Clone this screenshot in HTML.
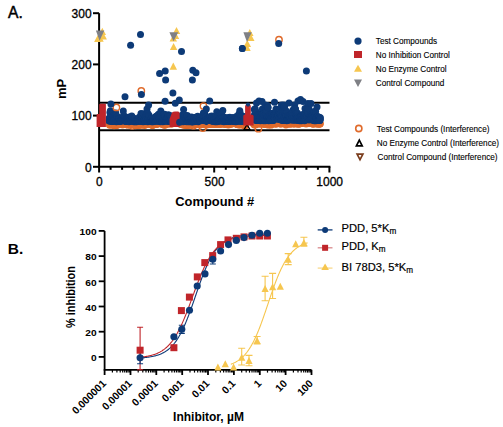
<!DOCTYPE html>
<html><head><meta charset="utf-8"><style>
html,body{margin:0;padding:0;background:#fff;width:503px;height:427px;overflow:hidden}
svg{display:block;font-family:"Liberation Sans", sans-serif}
</style></head><body><svg width="503" height="427" viewBox="0 0 503 427"><g stroke="#000" stroke-width="2" fill="none">
<path d="M99.1 13.2V166.8"/>
<path d="M93 166.8H99.1"/>
<path d="M93 115.6H99.1"/>
<path d="M93 64.4H99.1"/>
<path d="M93 13.2H99.1"/>
<path d="M98.1 166.8H330.4"/>
<path d="M99.1 166.8V172.5"/>
<path d="M110.6 166.8V169.8"/>
<path d="M122.1 166.8V169.8"/>
<path d="M133.6 166.8V169.8"/>
<path d="M145.2 166.8V169.8"/>
<path d="M156.7 166.8V169.8"/>
<path d="M168.2 166.8V169.8"/>
<path d="M179.7 166.8V169.8"/>
<path d="M191.2 166.8V169.8"/>
<path d="M202.7 166.8V169.8"/>
<path d="M214.2 166.8V172.5"/>
<path d="M225.8 166.8V169.8"/>
<path d="M237.3 166.8V169.8"/>
<path d="M248.8 166.8V169.8"/>
<path d="M260.3 166.8V169.8"/>
<path d="M271.8 166.8V169.8"/>
<path d="M283.3 166.8V169.8"/>
<path d="M294.9 166.8V169.8"/>
<path d="M306.4 166.8V169.8"/>
<path d="M317.9 166.8V169.8"/>
<path d="M329.4 166.8V172.5"/>
<path d="M99.1 102.7H329.5"/>
<path d="M99.1 130.3H329.5"/>
</g>
<g><circle cx="109.2" cy="123.9" r="3.0" fill="none" stroke="#e06b2c" stroke-width="1.2"/><circle cx="109.5" cy="124.1" r="3.0" fill="none" stroke="#e06b2c" stroke-width="1.2"/><circle cx="109.7" cy="125.1" r="3.0" fill="none" stroke="#e06b2c" stroke-width="1.2"/><circle cx="110.2" cy="124.6" r="3.0" fill="none" stroke="#e06b2c" stroke-width="1.2"/><circle cx="110.6" cy="123.6" r="3.0" fill="none" stroke="#e06b2c" stroke-width="1.2"/><circle cx="111.1" cy="123.6" r="3.0" fill="none" stroke="#e06b2c" stroke-width="1.2"/><circle cx="111.8" cy="125.0" r="3.0" fill="none" stroke="#e06b2c" stroke-width="1.2"/><circle cx="112.0" cy="124.4" r="3.0" fill="none" stroke="#e06b2c" stroke-width="1.2"/><circle cx="112.7" cy="124.4" r="3.0" fill="none" stroke="#e06b2c" stroke-width="1.2"/><circle cx="112.9" cy="125.0" r="3.0" fill="none" stroke="#e06b2c" stroke-width="1.2"/><circle cx="113.8" cy="123.7" r="3.0" fill="none" stroke="#e06b2c" stroke-width="1.2"/><circle cx="114.1" cy="125.6" r="3.0" fill="none" stroke="#e06b2c" stroke-width="1.2"/><circle cx="114.3" cy="123.2" r="3.0" fill="none" stroke="#e06b2c" stroke-width="1.2"/><circle cx="114.8" cy="125.0" r="3.0" fill="none" stroke="#e06b2c" stroke-width="1.2"/><circle cx="115.0" cy="124.1" r="3.0" fill="none" stroke="#e06b2c" stroke-width="1.2"/><circle cx="115.5" cy="125.4" r="3.0" fill="none" stroke="#e06b2c" stroke-width="1.2"/><circle cx="115.9" cy="124.6" r="3.0" fill="none" stroke="#e06b2c" stroke-width="1.2"/><circle cx="116.1" cy="124.0" r="3.0" fill="none" stroke="#e06b2c" stroke-width="1.2"/><circle cx="116.4" cy="125.2" r="3.0" fill="none" stroke="#e06b2c" stroke-width="1.2"/><circle cx="116.6" cy="124.4" r="3.0" fill="none" stroke="#e06b2c" stroke-width="1.2"/><circle cx="116.8" cy="125.5" r="3.0" fill="none" stroke="#e06b2c" stroke-width="1.2"/><circle cx="117.5" cy="124.2" r="3.0" fill="none" stroke="#e06b2c" stroke-width="1.2"/><circle cx="117.8" cy="124.4" r="3.0" fill="none" stroke="#e06b2c" stroke-width="1.2"/><circle cx="118.0" cy="123.9" r="3.0" fill="none" stroke="#e06b2c" stroke-width="1.2"/><circle cx="118.2" cy="123.4" r="3.0" fill="none" stroke="#e06b2c" stroke-width="1.2"/><circle cx="118.7" cy="124.5" r="3.0" fill="none" stroke="#e06b2c" stroke-width="1.2"/><circle cx="119.6" cy="124.0" r="3.0" fill="none" stroke="#e06b2c" stroke-width="1.2"/><circle cx="120.5" cy="123.9" r="3.0" fill="none" stroke="#e06b2c" stroke-width="1.2"/><circle cx="120.7" cy="124.2" r="3.0" fill="none" stroke="#e06b2c" stroke-width="1.2"/><circle cx="122.1" cy="123.9" r="3.0" fill="none" stroke="#e06b2c" stroke-width="1.2"/><circle cx="122.4" cy="124.1" r="3.0" fill="none" stroke="#e06b2c" stroke-width="1.2"/><circle cx="122.6" cy="125.0" r="3.0" fill="none" stroke="#e06b2c" stroke-width="1.2"/><circle cx="122.8" cy="123.8" r="3.0" fill="none" stroke="#e06b2c" stroke-width="1.2"/><circle cx="123.5" cy="123.7" r="3.0" fill="none" stroke="#e06b2c" stroke-width="1.2"/><circle cx="123.7" cy="123.9" r="3.0" fill="none" stroke="#e06b2c" stroke-width="1.2"/><circle cx="124.2" cy="123.1" r="3.0" fill="none" stroke="#e06b2c" stroke-width="1.2"/><circle cx="125.1" cy="122.4" r="3.0" fill="none" stroke="#e06b2c" stroke-width="1.2"/><circle cx="125.8" cy="123.3" r="3.0" fill="none" stroke="#e06b2c" stroke-width="1.2"/><circle cx="126.0" cy="123.5" r="3.0" fill="none" stroke="#e06b2c" stroke-width="1.2"/><circle cx="126.3" cy="123.9" r="3.0" fill="none" stroke="#e06b2c" stroke-width="1.2"/><circle cx="126.7" cy="124.6" r="3.0" fill="none" stroke="#e06b2c" stroke-width="1.2"/><circle cx="127.0" cy="124.1" r="3.0" fill="none" stroke="#e06b2c" stroke-width="1.2"/><circle cx="127.7" cy="124.9" r="3.0" fill="none" stroke="#e06b2c" stroke-width="1.2"/><circle cx="127.9" cy="124.4" r="3.0" fill="none" stroke="#e06b2c" stroke-width="1.2"/><circle cx="128.6" cy="123.9" r="3.0" fill="none" stroke="#e06b2c" stroke-width="1.2"/><circle cx="128.8" cy="124.4" r="3.0" fill="none" stroke="#e06b2c" stroke-width="1.2"/><circle cx="129.0" cy="123.9" r="3.0" fill="none" stroke="#e06b2c" stroke-width="1.2"/><circle cx="129.5" cy="123.9" r="3.0" fill="none" stroke="#e06b2c" stroke-width="1.2"/><circle cx="129.7" cy="124.9" r="3.0" fill="none" stroke="#e06b2c" stroke-width="1.2"/><circle cx="130.2" cy="124.2" r="3.0" fill="none" stroke="#e06b2c" stroke-width="1.2"/><circle cx="130.4" cy="124.2" r="3.0" fill="none" stroke="#e06b2c" stroke-width="1.2"/><circle cx="130.7" cy="124.3" r="3.0" fill="none" stroke="#e06b2c" stroke-width="1.2"/><circle cx="131.1" cy="124.3" r="3.0" fill="none" stroke="#e06b2c" stroke-width="1.2"/><circle cx="131.3" cy="124.4" r="3.0" fill="none" stroke="#e06b2c" stroke-width="1.2"/><circle cx="132.0" cy="123.3" r="3.0" fill="none" stroke="#e06b2c" stroke-width="1.2"/><circle cx="132.3" cy="126.1" r="3.0" fill="none" stroke="#e06b2c" stroke-width="1.2"/><circle cx="132.5" cy="123.7" r="3.0" fill="none" stroke="#e06b2c" stroke-width="1.2"/><circle cx="133.0" cy="123.6" r="3.0" fill="none" stroke="#e06b2c" stroke-width="1.2"/><circle cx="133.9" cy="125.0" r="3.0" fill="none" stroke="#e06b2c" stroke-width="1.2"/><circle cx="134.6" cy="124.2" r="3.0" fill="none" stroke="#e06b2c" stroke-width="1.2"/><circle cx="135.0" cy="124.6" r="3.0" fill="none" stroke="#e06b2c" stroke-width="1.2"/><circle cx="135.3" cy="124.3" r="3.0" fill="none" stroke="#e06b2c" stroke-width="1.2"/><circle cx="135.5" cy="125.7" r="3.0" fill="none" stroke="#e06b2c" stroke-width="1.2"/><circle cx="135.7" cy="123.1" r="3.0" fill="none" stroke="#e06b2c" stroke-width="1.2"/><circle cx="136.4" cy="124.8" r="3.0" fill="none" stroke="#e06b2c" stroke-width="1.2"/><circle cx="136.9" cy="124.6" r="3.0" fill="none" stroke="#e06b2c" stroke-width="1.2"/><circle cx="137.3" cy="125.2" r="3.0" fill="none" stroke="#e06b2c" stroke-width="1.2"/><circle cx="138.3" cy="124.0" r="3.0" fill="none" stroke="#e06b2c" stroke-width="1.2"/><circle cx="138.5" cy="125.5" r="3.0" fill="none" stroke="#e06b2c" stroke-width="1.2"/><circle cx="139.4" cy="125.1" r="3.0" fill="none" stroke="#e06b2c" stroke-width="1.2"/><circle cx="139.6" cy="123.7" r="3.0" fill="none" stroke="#e06b2c" stroke-width="1.2"/><circle cx="139.9" cy="123.8" r="3.0" fill="none" stroke="#e06b2c" stroke-width="1.2"/><circle cx="140.8" cy="123.4" r="3.0" fill="none" stroke="#e06b2c" stroke-width="1.2"/><circle cx="141.2" cy="124.2" r="3.0" fill="none" stroke="#e06b2c" stroke-width="1.2"/><circle cx="141.7" cy="125.1" r="3.0" fill="none" stroke="#e06b2c" stroke-width="1.2"/><circle cx="141.9" cy="124.4" r="3.0" fill="none" stroke="#e06b2c" stroke-width="1.2"/><circle cx="142.9" cy="124.1" r="3.0" fill="none" stroke="#e06b2c" stroke-width="1.2"/><circle cx="143.1" cy="122.9" r="3.0" fill="none" stroke="#e06b2c" stroke-width="1.2"/><circle cx="143.3" cy="124.3" r="3.0" fill="none" stroke="#e06b2c" stroke-width="1.2"/><circle cx="143.5" cy="124.0" r="3.0" fill="none" stroke="#e06b2c" stroke-width="1.2"/><circle cx="143.8" cy="122.3" r="3.0" fill="none" stroke="#e06b2c" stroke-width="1.2"/><circle cx="144.2" cy="124.2" r="3.0" fill="none" stroke="#e06b2c" stroke-width="1.2"/><circle cx="144.5" cy="125.3" r="3.0" fill="none" stroke="#e06b2c" stroke-width="1.2"/><circle cx="144.9" cy="124.2" r="3.0" fill="none" stroke="#e06b2c" stroke-width="1.2"/><circle cx="145.2" cy="124.5" r="3.0" fill="none" stroke="#e06b2c" stroke-width="1.2"/><circle cx="145.6" cy="123.6" r="3.0" fill="none" stroke="#e06b2c" stroke-width="1.2"/><circle cx="145.9" cy="124.7" r="3.0" fill="none" stroke="#e06b2c" stroke-width="1.2"/><circle cx="146.1" cy="124.5" r="3.0" fill="none" stroke="#e06b2c" stroke-width="1.2"/><circle cx="146.5" cy="123.2" r="3.0" fill="none" stroke="#e06b2c" stroke-width="1.2"/><circle cx="146.8" cy="124.5" r="3.0" fill="none" stroke="#e06b2c" stroke-width="1.2"/><circle cx="147.2" cy="123.7" r="3.0" fill="none" stroke="#e06b2c" stroke-width="1.2"/><circle cx="147.5" cy="122.5" r="3.0" fill="none" stroke="#e06b2c" stroke-width="1.2"/><circle cx="147.7" cy="123.6" r="3.0" fill="none" stroke="#e06b2c" stroke-width="1.2"/><circle cx="148.2" cy="123.4" r="3.0" fill="none" stroke="#e06b2c" stroke-width="1.2"/><circle cx="149.1" cy="123.4" r="3.0" fill="none" stroke="#e06b2c" stroke-width="1.2"/><circle cx="149.3" cy="122.8" r="3.0" fill="none" stroke="#e06b2c" stroke-width="1.2"/><circle cx="149.8" cy="123.1" r="3.0" fill="none" stroke="#e06b2c" stroke-width="1.2"/><circle cx="150.0" cy="123.3" r="3.0" fill="none" stroke="#e06b2c" stroke-width="1.2"/><circle cx="150.2" cy="124.3" r="3.0" fill="none" stroke="#e06b2c" stroke-width="1.2"/><circle cx="150.7" cy="122.6" r="3.0" fill="none" stroke="#e06b2c" stroke-width="1.2"/><circle cx="151.1" cy="123.2" r="3.0" fill="none" stroke="#e06b2c" stroke-width="1.2"/><circle cx="151.4" cy="123.8" r="3.0" fill="none" stroke="#e06b2c" stroke-width="1.2"/><circle cx="151.8" cy="124.0" r="3.0" fill="none" stroke="#e06b2c" stroke-width="1.2"/><circle cx="152.1" cy="124.4" r="3.0" fill="none" stroke="#e06b2c" stroke-width="1.2"/><circle cx="152.5" cy="125.4" r="3.0" fill="none" stroke="#e06b2c" stroke-width="1.2"/><circle cx="152.8" cy="123.4" r="3.0" fill="none" stroke="#e06b2c" stroke-width="1.2"/><circle cx="153.2" cy="123.7" r="3.0" fill="none" stroke="#e06b2c" stroke-width="1.2"/><circle cx="153.7" cy="124.1" r="3.0" fill="none" stroke="#e06b2c" stroke-width="1.2"/><circle cx="153.9" cy="123.5" r="3.0" fill="none" stroke="#e06b2c" stroke-width="1.2"/><circle cx="154.6" cy="123.2" r="3.0" fill="none" stroke="#e06b2c" stroke-width="1.2"/><circle cx="154.8" cy="123.0" r="3.0" fill="none" stroke="#e06b2c" stroke-width="1.2"/><circle cx="155.1" cy="122.9" r="3.0" fill="none" stroke="#e06b2c" stroke-width="1.2"/><circle cx="155.3" cy="123.7" r="3.0" fill="none" stroke="#e06b2c" stroke-width="1.2"/><circle cx="155.8" cy="124.5" r="3.0" fill="none" stroke="#e06b2c" stroke-width="1.2"/><circle cx="156.2" cy="123.4" r="3.0" fill="none" stroke="#e06b2c" stroke-width="1.2"/><circle cx="156.4" cy="124.3" r="3.0" fill="none" stroke="#e06b2c" stroke-width="1.2"/><circle cx="156.7" cy="124.3" r="3.0" fill="none" stroke="#e06b2c" stroke-width="1.2"/><circle cx="157.1" cy="123.4" r="3.0" fill="none" stroke="#e06b2c" stroke-width="1.2"/><circle cx="157.6" cy="123.0" r="3.0" fill="none" stroke="#e06b2c" stroke-width="1.2"/><circle cx="157.8" cy="123.1" r="3.0" fill="none" stroke="#e06b2c" stroke-width="1.2"/><circle cx="158.1" cy="122.8" r="3.0" fill="none" stroke="#e06b2c" stroke-width="1.2"/><circle cx="158.5" cy="122.2" r="3.0" fill="none" stroke="#e06b2c" stroke-width="1.2"/><circle cx="159.0" cy="123.1" r="3.0" fill="none" stroke="#e06b2c" stroke-width="1.2"/><circle cx="159.9" cy="123.7" r="3.0" fill="none" stroke="#e06b2c" stroke-width="1.2"/><circle cx="160.1" cy="123.0" r="3.0" fill="none" stroke="#e06b2c" stroke-width="1.2"/><circle cx="160.4" cy="122.8" r="3.0" fill="none" stroke="#e06b2c" stroke-width="1.2"/><circle cx="160.6" cy="123.4" r="3.0" fill="none" stroke="#e06b2c" stroke-width="1.2"/><circle cx="161.1" cy="123.5" r="3.0" fill="none" stroke="#e06b2c" stroke-width="1.2"/><circle cx="161.3" cy="123.3" r="3.0" fill="none" stroke="#e06b2c" stroke-width="1.2"/><circle cx="162.2" cy="124.5" r="3.0" fill="none" stroke="#e06b2c" stroke-width="1.2"/><circle cx="162.4" cy="123.4" r="3.0" fill="none" stroke="#e06b2c" stroke-width="1.2"/><circle cx="162.9" cy="123.8" r="3.0" fill="none" stroke="#e06b2c" stroke-width="1.2"/><circle cx="163.1" cy="124.1" r="3.0" fill="none" stroke="#e06b2c" stroke-width="1.2"/><circle cx="163.8" cy="123.3" r="3.0" fill="none" stroke="#e06b2c" stroke-width="1.2"/><circle cx="164.0" cy="124.8" r="3.0" fill="none" stroke="#e06b2c" stroke-width="1.2"/><circle cx="164.5" cy="125.2" r="3.0" fill="none" stroke="#e06b2c" stroke-width="1.2"/><circle cx="165.2" cy="124.6" r="3.0" fill="none" stroke="#e06b2c" stroke-width="1.2"/><circle cx="165.7" cy="123.5" r="3.0" fill="none" stroke="#e06b2c" stroke-width="1.2"/><circle cx="165.9" cy="124.6" r="3.0" fill="none" stroke="#e06b2c" stroke-width="1.2"/><circle cx="166.3" cy="123.5" r="3.0" fill="none" stroke="#e06b2c" stroke-width="1.2"/><circle cx="167.0" cy="123.6" r="3.0" fill="none" stroke="#e06b2c" stroke-width="1.2"/><circle cx="167.7" cy="123.4" r="3.0" fill="none" stroke="#e06b2c" stroke-width="1.2"/><circle cx="168.0" cy="123.0" r="3.0" fill="none" stroke="#e06b2c" stroke-width="1.2"/><circle cx="168.4" cy="124.1" r="3.0" fill="none" stroke="#e06b2c" stroke-width="1.2"/><circle cx="168.9" cy="122.4" r="3.0" fill="none" stroke="#e06b2c" stroke-width="1.2"/><circle cx="169.6" cy="123.4" r="3.0" fill="none" stroke="#e06b2c" stroke-width="1.2"/><circle cx="169.8" cy="122.1" r="3.0" fill="none" stroke="#e06b2c" stroke-width="1.2"/><circle cx="171.2" cy="123.3" r="3.0" fill="none" stroke="#e06b2c" stroke-width="1.2"/><circle cx="171.4" cy="124.1" r="3.0" fill="none" stroke="#e06b2c" stroke-width="1.2"/><circle cx="179.5" cy="123.0" r="3.0" fill="none" stroke="#e06b2c" stroke-width="1.2"/><circle cx="179.9" cy="123.7" r="3.0" fill="none" stroke="#e06b2c" stroke-width="1.2"/><circle cx="180.2" cy="123.0" r="3.0" fill="none" stroke="#e06b2c" stroke-width="1.2"/><circle cx="180.4" cy="122.5" r="3.0" fill="none" stroke="#e06b2c" stroke-width="1.2"/><circle cx="180.6" cy="124.2" r="3.0" fill="none" stroke="#e06b2c" stroke-width="1.2"/><circle cx="180.9" cy="124.1" r="3.0" fill="none" stroke="#e06b2c" stroke-width="1.2"/><circle cx="181.1" cy="124.0" r="3.0" fill="none" stroke="#e06b2c" stroke-width="1.2"/><circle cx="181.5" cy="123.1" r="3.0" fill="none" stroke="#e06b2c" stroke-width="1.2"/><circle cx="182.2" cy="122.8" r="3.0" fill="none" stroke="#e06b2c" stroke-width="1.2"/><circle cx="182.9" cy="123.9" r="3.0" fill="none" stroke="#e06b2c" stroke-width="1.2"/><circle cx="183.4" cy="125.1" r="3.0" fill="none" stroke="#e06b2c" stroke-width="1.2"/><circle cx="183.6" cy="124.0" r="3.0" fill="none" stroke="#e06b2c" stroke-width="1.2"/><circle cx="183.9" cy="124.7" r="3.0" fill="none" stroke="#e06b2c" stroke-width="1.2"/><circle cx="184.1" cy="124.1" r="3.0" fill="none" stroke="#e06b2c" stroke-width="1.2"/><circle cx="184.5" cy="125.0" r="3.0" fill="none" stroke="#e06b2c" stroke-width="1.2"/><circle cx="184.8" cy="123.9" r="3.0" fill="none" stroke="#e06b2c" stroke-width="1.2"/><circle cx="185.9" cy="125.1" r="3.0" fill="none" stroke="#e06b2c" stroke-width="1.2"/><circle cx="186.2" cy="125.2" r="3.0" fill="none" stroke="#e06b2c" stroke-width="1.2"/><circle cx="186.8" cy="124.5" r="3.0" fill="none" stroke="#e06b2c" stroke-width="1.2"/><circle cx="187.1" cy="125.2" r="3.0" fill="none" stroke="#e06b2c" stroke-width="1.2"/><circle cx="187.3" cy="124.4" r="3.0" fill="none" stroke="#e06b2c" stroke-width="1.2"/><circle cx="187.5" cy="125.5" r="3.0" fill="none" stroke="#e06b2c" stroke-width="1.2"/><circle cx="187.8" cy="124.7" r="3.0" fill="none" stroke="#e06b2c" stroke-width="1.2"/><circle cx="188.7" cy="125.0" r="3.0" fill="none" stroke="#e06b2c" stroke-width="1.2"/><circle cx="189.1" cy="124.9" r="3.0" fill="none" stroke="#e06b2c" stroke-width="1.2"/><circle cx="189.4" cy="124.0" r="3.0" fill="none" stroke="#e06b2c" stroke-width="1.2"/><circle cx="190.1" cy="124.8" r="3.0" fill="none" stroke="#e06b2c" stroke-width="1.2"/><circle cx="191.2" cy="125.0" r="3.0" fill="none" stroke="#e06b2c" stroke-width="1.2"/><circle cx="192.1" cy="124.7" r="3.0" fill="none" stroke="#e06b2c" stroke-width="1.2"/><circle cx="192.4" cy="124.8" r="3.0" fill="none" stroke="#e06b2c" stroke-width="1.2"/><circle cx="193.5" cy="125.9" r="3.0" fill="none" stroke="#e06b2c" stroke-width="1.2"/><circle cx="194.0" cy="124.3" r="3.0" fill="none" stroke="#e06b2c" stroke-width="1.2"/><circle cx="194.2" cy="124.2" r="3.0" fill="none" stroke="#e06b2c" stroke-width="1.2"/><circle cx="194.7" cy="123.0" r="3.0" fill="none" stroke="#e06b2c" stroke-width="1.2"/><circle cx="195.6" cy="124.7" r="3.0" fill="none" stroke="#e06b2c" stroke-width="1.2"/><circle cx="196.1" cy="124.2" r="3.0" fill="none" stroke="#e06b2c" stroke-width="1.2"/><circle cx="196.5" cy="122.8" r="3.0" fill="none" stroke="#e06b2c" stroke-width="1.2"/><circle cx="197.0" cy="122.5" r="3.0" fill="none" stroke="#e06b2c" stroke-width="1.2"/><circle cx="197.4" cy="123.9" r="3.0" fill="none" stroke="#e06b2c" stroke-width="1.2"/><circle cx="198.1" cy="124.0" r="3.0" fill="none" stroke="#e06b2c" stroke-width="1.2"/><circle cx="198.4" cy="123.3" r="3.0" fill="none" stroke="#e06b2c" stroke-width="1.2"/><circle cx="198.6" cy="123.8" r="3.0" fill="none" stroke="#e06b2c" stroke-width="1.2"/><circle cx="198.8" cy="124.7" r="3.0" fill="none" stroke="#e06b2c" stroke-width="1.2"/><circle cx="199.3" cy="123.1" r="3.0" fill="none" stroke="#e06b2c" stroke-width="1.2"/><circle cx="200.0" cy="125.0" r="3.0" fill="none" stroke="#e06b2c" stroke-width="1.2"/><circle cx="200.2" cy="123.5" r="3.0" fill="none" stroke="#e06b2c" stroke-width="1.2"/><circle cx="200.7" cy="123.8" r="3.0" fill="none" stroke="#e06b2c" stroke-width="1.2"/><circle cx="200.9" cy="123.5" r="3.0" fill="none" stroke="#e06b2c" stroke-width="1.2"/><circle cx="201.1" cy="124.7" r="3.0" fill="none" stroke="#e06b2c" stroke-width="1.2"/><circle cx="201.4" cy="123.6" r="3.0" fill="none" stroke="#e06b2c" stroke-width="1.2"/><circle cx="201.6" cy="123.1" r="3.0" fill="none" stroke="#e06b2c" stroke-width="1.2"/><circle cx="202.3" cy="124.2" r="3.0" fill="none" stroke="#e06b2c" stroke-width="1.2"/><circle cx="202.7" cy="123.8" r="3.0" fill="none" stroke="#e06b2c" stroke-width="1.2"/><circle cx="203.0" cy="123.3" r="3.0" fill="none" stroke="#e06b2c" stroke-width="1.2"/><circle cx="203.2" cy="123.5" r="3.0" fill="none" stroke="#e06b2c" stroke-width="1.2"/><circle cx="203.7" cy="123.5" r="3.0" fill="none" stroke="#e06b2c" stroke-width="1.2"/><circle cx="204.1" cy="123.7" r="3.0" fill="none" stroke="#e06b2c" stroke-width="1.2"/><circle cx="204.3" cy="123.4" r="3.0" fill="none" stroke="#e06b2c" stroke-width="1.2"/><circle cx="204.6" cy="124.5" r="3.0" fill="none" stroke="#e06b2c" stroke-width="1.2"/><circle cx="205.0" cy="124.1" r="3.0" fill="none" stroke="#e06b2c" stroke-width="1.2"/><circle cx="205.5" cy="125.0" r="3.0" fill="none" stroke="#e06b2c" stroke-width="1.2"/><circle cx="205.7" cy="124.5" r="3.0" fill="none" stroke="#e06b2c" stroke-width="1.2"/><circle cx="206.0" cy="124.6" r="3.0" fill="none" stroke="#e06b2c" stroke-width="1.2"/><circle cx="206.7" cy="125.0" r="3.0" fill="none" stroke="#e06b2c" stroke-width="1.2"/><circle cx="209.2" cy="123.9" r="3.0" fill="none" stroke="#e06b2c" stroke-width="1.2"/><circle cx="210.3" cy="124.4" r="3.0" fill="none" stroke="#e06b2c" stroke-width="1.2"/><circle cx="211.3" cy="123.1" r="3.0" fill="none" stroke="#e06b2c" stroke-width="1.2"/><circle cx="211.7" cy="124.1" r="3.0" fill="none" stroke="#e06b2c" stroke-width="1.2"/><circle cx="211.9" cy="123.3" r="3.0" fill="none" stroke="#e06b2c" stroke-width="1.2"/><circle cx="212.2" cy="124.0" r="3.0" fill="none" stroke="#e06b2c" stroke-width="1.2"/><circle cx="212.6" cy="123.8" r="3.0" fill="none" stroke="#e06b2c" stroke-width="1.2"/><circle cx="213.1" cy="124.4" r="3.0" fill="none" stroke="#e06b2c" stroke-width="1.2"/><circle cx="213.6" cy="122.6" r="3.0" fill="none" stroke="#e06b2c" stroke-width="1.2"/><circle cx="214.2" cy="122.8" r="3.0" fill="none" stroke="#e06b2c" stroke-width="1.2"/><circle cx="214.7" cy="124.3" r="3.0" fill="none" stroke="#e06b2c" stroke-width="1.2"/><circle cx="214.9" cy="123.7" r="3.0" fill="none" stroke="#e06b2c" stroke-width="1.2"/><circle cx="215.4" cy="123.9" r="3.0" fill="none" stroke="#e06b2c" stroke-width="1.2"/><circle cx="216.3" cy="122.9" r="3.0" fill="none" stroke="#e06b2c" stroke-width="1.2"/><circle cx="216.6" cy="122.7" r="3.0" fill="none" stroke="#e06b2c" stroke-width="1.2"/><circle cx="217.0" cy="123.8" r="3.0" fill="none" stroke="#e06b2c" stroke-width="1.2"/><circle cx="217.2" cy="124.5" r="3.0" fill="none" stroke="#e06b2c" stroke-width="1.2"/><circle cx="218.2" cy="122.4" r="3.0" fill="none" stroke="#e06b2c" stroke-width="1.2"/><circle cx="218.9" cy="124.0" r="3.0" fill="none" stroke="#e06b2c" stroke-width="1.2"/><circle cx="219.1" cy="123.5" r="3.0" fill="none" stroke="#e06b2c" stroke-width="1.2"/><circle cx="219.3" cy="124.1" r="3.0" fill="none" stroke="#e06b2c" stroke-width="1.2"/><circle cx="219.5" cy="123.2" r="3.0" fill="none" stroke="#e06b2c" stroke-width="1.2"/><circle cx="220.0" cy="122.5" r="3.0" fill="none" stroke="#e06b2c" stroke-width="1.2"/><circle cx="220.2" cy="124.3" r="3.0" fill="none" stroke="#e06b2c" stroke-width="1.2"/><circle cx="220.5" cy="122.9" r="3.0" fill="none" stroke="#e06b2c" stroke-width="1.2"/><circle cx="221.2" cy="123.7" r="3.0" fill="none" stroke="#e06b2c" stroke-width="1.2"/><circle cx="221.4" cy="122.8" r="3.0" fill="none" stroke="#e06b2c" stroke-width="1.2"/><circle cx="221.6" cy="123.2" r="3.0" fill="none" stroke="#e06b2c" stroke-width="1.2"/><circle cx="221.8" cy="123.5" r="3.0" fill="none" stroke="#e06b2c" stroke-width="1.2"/><circle cx="222.5" cy="124.2" r="3.0" fill="none" stroke="#e06b2c" stroke-width="1.2"/><circle cx="223.0" cy="123.3" r="3.0" fill="none" stroke="#e06b2c" stroke-width="1.2"/><circle cx="223.7" cy="123.4" r="3.0" fill="none" stroke="#e06b2c" stroke-width="1.2"/><circle cx="223.9" cy="124.0" r="3.0" fill="none" stroke="#e06b2c" stroke-width="1.2"/><circle cx="224.8" cy="123.5" r="3.0" fill="none" stroke="#e06b2c" stroke-width="1.2"/><circle cx="225.3" cy="124.3" r="3.0" fill="none" stroke="#e06b2c" stroke-width="1.2"/><circle cx="226.0" cy="123.9" r="3.0" fill="none" stroke="#e06b2c" stroke-width="1.2"/><circle cx="226.2" cy="124.4" r="3.0" fill="none" stroke="#e06b2c" stroke-width="1.2"/><circle cx="226.5" cy="123.0" r="3.0" fill="none" stroke="#e06b2c" stroke-width="1.2"/><circle cx="226.7" cy="124.1" r="3.0" fill="none" stroke="#e06b2c" stroke-width="1.2"/><circle cx="227.1" cy="124.2" r="3.0" fill="none" stroke="#e06b2c" stroke-width="1.2"/><circle cx="227.6" cy="124.1" r="3.0" fill="none" stroke="#e06b2c" stroke-width="1.2"/><circle cx="227.8" cy="123.7" r="3.0" fill="none" stroke="#e06b2c" stroke-width="1.2"/><circle cx="228.3" cy="125.0" r="3.0" fill="none" stroke="#e06b2c" stroke-width="1.2"/><circle cx="228.5" cy="123.6" r="3.0" fill="none" stroke="#e06b2c" stroke-width="1.2"/><circle cx="229.7" cy="124.0" r="3.0" fill="none" stroke="#e06b2c" stroke-width="1.2"/><circle cx="229.9" cy="123.4" r="3.0" fill="none" stroke="#e06b2c" stroke-width="1.2"/><circle cx="230.6" cy="124.5" r="3.0" fill="none" stroke="#e06b2c" stroke-width="1.2"/><circle cx="231.1" cy="123.7" r="3.0" fill="none" stroke="#e06b2c" stroke-width="1.2"/><circle cx="231.5" cy="122.9" r="3.0" fill="none" stroke="#e06b2c" stroke-width="1.2"/><circle cx="232.0" cy="123.1" r="3.0" fill="none" stroke="#e06b2c" stroke-width="1.2"/><circle cx="232.7" cy="122.4" r="3.0" fill="none" stroke="#e06b2c" stroke-width="1.2"/><circle cx="232.9" cy="123.7" r="3.0" fill="none" stroke="#e06b2c" stroke-width="1.2"/><circle cx="233.4" cy="122.7" r="3.0" fill="none" stroke="#e06b2c" stroke-width="1.2"/><circle cx="233.8" cy="122.2" r="3.0" fill="none" stroke="#e06b2c" stroke-width="1.2"/><circle cx="235.4" cy="123.1" r="3.0" fill="none" stroke="#e06b2c" stroke-width="1.2"/><circle cx="236.6" cy="124.0" r="3.0" fill="none" stroke="#e06b2c" stroke-width="1.2"/><circle cx="237.0" cy="124.4" r="3.0" fill="none" stroke="#e06b2c" stroke-width="1.2"/><circle cx="237.3" cy="123.8" r="3.0" fill="none" stroke="#e06b2c" stroke-width="1.2"/><circle cx="237.5" cy="123.8" r="3.0" fill="none" stroke="#e06b2c" stroke-width="1.2"/><circle cx="237.7" cy="123.0" r="3.0" fill="none" stroke="#e06b2c" stroke-width="1.2"/><circle cx="238.7" cy="124.8" r="3.0" fill="none" stroke="#e06b2c" stroke-width="1.2"/><circle cx="239.1" cy="123.7" r="3.0" fill="none" stroke="#e06b2c" stroke-width="1.2"/><circle cx="239.4" cy="124.2" r="3.0" fill="none" stroke="#e06b2c" stroke-width="1.2"/><circle cx="240.0" cy="124.2" r="3.0" fill="none" stroke="#e06b2c" stroke-width="1.2"/><circle cx="240.3" cy="125.0" r="3.0" fill="none" stroke="#e06b2c" stroke-width="1.2"/><circle cx="240.7" cy="123.4" r="3.0" fill="none" stroke="#e06b2c" stroke-width="1.2"/><circle cx="241.2" cy="124.2" r="3.0" fill="none" stroke="#e06b2c" stroke-width="1.2"/><circle cx="242.3" cy="123.9" r="3.0" fill="none" stroke="#e06b2c" stroke-width="1.2"/><circle cx="242.6" cy="123.7" r="3.0" fill="none" stroke="#e06b2c" stroke-width="1.2"/><circle cx="242.8" cy="124.7" r="3.0" fill="none" stroke="#e06b2c" stroke-width="1.2"/><circle cx="243.0" cy="124.4" r="3.0" fill="none" stroke="#e06b2c" stroke-width="1.2"/><circle cx="243.3" cy="125.1" r="3.0" fill="none" stroke="#e06b2c" stroke-width="1.2"/><circle cx="243.5" cy="124.1" r="3.0" fill="none" stroke="#e06b2c" stroke-width="1.2"/><circle cx="244.0" cy="123.6" r="3.0" fill="none" stroke="#e06b2c" stroke-width="1.2"/><circle cx="244.4" cy="124.0" r="3.0" fill="none" stroke="#e06b2c" stroke-width="1.2"/><circle cx="244.6" cy="125.7" r="3.0" fill="none" stroke="#e06b2c" stroke-width="1.2"/><circle cx="244.9" cy="124.5" r="3.0" fill="none" stroke="#e06b2c" stroke-width="1.2"/><circle cx="245.3" cy="125.7" r="3.0" fill="none" stroke="#e06b2c" stroke-width="1.2"/><circle cx="253.6" cy="123.9" r="3.0" fill="none" stroke="#e06b2c" stroke-width="1.2"/><circle cx="253.9" cy="123.3" r="3.0" fill="none" stroke="#e06b2c" stroke-width="1.2"/><circle cx="254.3" cy="124.8" r="3.0" fill="none" stroke="#e06b2c" stroke-width="1.2"/><circle cx="254.6" cy="123.2" r="3.0" fill="none" stroke="#e06b2c" stroke-width="1.2"/><circle cx="254.8" cy="123.8" r="3.0" fill="none" stroke="#e06b2c" stroke-width="1.2"/><circle cx="255.2" cy="123.7" r="3.0" fill="none" stroke="#e06b2c" stroke-width="1.2"/><circle cx="255.5" cy="125.0" r="3.0" fill="none" stroke="#e06b2c" stroke-width="1.2"/><circle cx="255.9" cy="123.9" r="3.0" fill="none" stroke="#e06b2c" stroke-width="1.2"/><circle cx="256.4" cy="123.7" r="3.0" fill="none" stroke="#e06b2c" stroke-width="1.2"/><circle cx="257.1" cy="123.4" r="3.0" fill="none" stroke="#e06b2c" stroke-width="1.2"/><circle cx="258.2" cy="124.0" r="3.0" fill="none" stroke="#e06b2c" stroke-width="1.2"/><circle cx="258.7" cy="122.9" r="3.0" fill="none" stroke="#e06b2c" stroke-width="1.2"/><circle cx="259.4" cy="123.5" r="3.0" fill="none" stroke="#e06b2c" stroke-width="1.2"/><circle cx="259.8" cy="123.4" r="3.0" fill="none" stroke="#e06b2c" stroke-width="1.2"/><circle cx="260.3" cy="124.1" r="3.0" fill="none" stroke="#e06b2c" stroke-width="1.2"/><circle cx="261.0" cy="123.3" r="3.0" fill="none" stroke="#e06b2c" stroke-width="1.2"/><circle cx="261.2" cy="123.4" r="3.0" fill="none" stroke="#e06b2c" stroke-width="1.2"/><circle cx="262.8" cy="124.0" r="3.0" fill="none" stroke="#e06b2c" stroke-width="1.2"/><circle cx="263.8" cy="123.8" r="3.0" fill="none" stroke="#e06b2c" stroke-width="1.2"/><circle cx="264.0" cy="123.4" r="3.0" fill="none" stroke="#e06b2c" stroke-width="1.2"/><circle cx="264.2" cy="123.6" r="3.0" fill="none" stroke="#e06b2c" stroke-width="1.2"/><circle cx="264.5" cy="124.5" r="3.0" fill="none" stroke="#e06b2c" stroke-width="1.2"/><circle cx="264.9" cy="122.9" r="3.0" fill="none" stroke="#e06b2c" stroke-width="1.2"/><circle cx="265.6" cy="124.5" r="3.0" fill="none" stroke="#e06b2c" stroke-width="1.2"/><circle cx="265.8" cy="124.2" r="3.0" fill="none" stroke="#e06b2c" stroke-width="1.2"/><circle cx="266.5" cy="123.1" r="3.0" fill="none" stroke="#e06b2c" stroke-width="1.2"/><circle cx="267.4" cy="124.5" r="3.0" fill="none" stroke="#e06b2c" stroke-width="1.2"/><circle cx="267.7" cy="124.8" r="3.0" fill="none" stroke="#e06b2c" stroke-width="1.2"/><circle cx="268.4" cy="124.2" r="3.0" fill="none" stroke="#e06b2c" stroke-width="1.2"/><circle cx="268.6" cy="124.6" r="3.0" fill="none" stroke="#e06b2c" stroke-width="1.2"/><circle cx="269.8" cy="124.1" r="3.0" fill="none" stroke="#e06b2c" stroke-width="1.2"/><circle cx="270.0" cy="124.7" r="3.0" fill="none" stroke="#e06b2c" stroke-width="1.2"/><circle cx="270.2" cy="123.9" r="3.0" fill="none" stroke="#e06b2c" stroke-width="1.2"/><circle cx="270.9" cy="124.9" r="3.0" fill="none" stroke="#e06b2c" stroke-width="1.2"/><circle cx="271.1" cy="124.4" r="3.0" fill="none" stroke="#e06b2c" stroke-width="1.2"/><circle cx="271.4" cy="124.2" r="3.0" fill="none" stroke="#e06b2c" stroke-width="1.2"/><circle cx="271.6" cy="123.6" r="3.0" fill="none" stroke="#e06b2c" stroke-width="1.2"/><circle cx="271.8" cy="123.7" r="3.0" fill="none" stroke="#e06b2c" stroke-width="1.2"/><circle cx="273.0" cy="122.5" r="3.0" fill="none" stroke="#e06b2c" stroke-width="1.2"/><circle cx="273.9" cy="123.1" r="3.0" fill="none" stroke="#e06b2c" stroke-width="1.2"/><circle cx="274.8" cy="122.9" r="3.0" fill="none" stroke="#e06b2c" stroke-width="1.2"/><circle cx="275.0" cy="124.0" r="3.0" fill="none" stroke="#e06b2c" stroke-width="1.2"/><circle cx="275.3" cy="123.1" r="3.0" fill="none" stroke="#e06b2c" stroke-width="1.2"/><circle cx="275.7" cy="122.2" r="3.0" fill="none" stroke="#e06b2c" stroke-width="1.2"/><circle cx="276.0" cy="124.1" r="3.0" fill="none" stroke="#e06b2c" stroke-width="1.2"/><circle cx="276.9" cy="122.9" r="3.0" fill="none" stroke="#e06b2c" stroke-width="1.2"/><circle cx="277.4" cy="122.8" r="3.0" fill="none" stroke="#e06b2c" stroke-width="1.2"/><circle cx="278.5" cy="123.1" r="3.0" fill="none" stroke="#e06b2c" stroke-width="1.2"/><circle cx="279.4" cy="123.5" r="3.0" fill="none" stroke="#e06b2c" stroke-width="1.2"/><circle cx="279.7" cy="123.3" r="3.0" fill="none" stroke="#e06b2c" stroke-width="1.2"/><circle cx="280.6" cy="124.1" r="3.0" fill="none" stroke="#e06b2c" stroke-width="1.2"/><circle cx="281.7" cy="123.5" r="3.0" fill="none" stroke="#e06b2c" stroke-width="1.2"/><circle cx="282.0" cy="123.1" r="3.0" fill="none" stroke="#e06b2c" stroke-width="1.2"/><circle cx="282.4" cy="122.7" r="3.0" fill="none" stroke="#e06b2c" stroke-width="1.2"/><circle cx="282.6" cy="123.6" r="3.0" fill="none" stroke="#e06b2c" stroke-width="1.2"/><circle cx="282.9" cy="123.0" r="3.0" fill="none" stroke="#e06b2c" stroke-width="1.2"/><circle cx="283.3" cy="123.3" r="3.0" fill="none" stroke="#e06b2c" stroke-width="1.2"/><circle cx="283.8" cy="123.0" r="3.0" fill="none" stroke="#e06b2c" stroke-width="1.2"/><circle cx="284.0" cy="123.4" r="3.0" fill="none" stroke="#e06b2c" stroke-width="1.2"/><circle cx="284.3" cy="123.2" r="3.0" fill="none" stroke="#e06b2c" stroke-width="1.2"/><circle cx="284.5" cy="123.0" r="3.0" fill="none" stroke="#e06b2c" stroke-width="1.2"/><circle cx="285.0" cy="123.4" r="3.0" fill="none" stroke="#e06b2c" stroke-width="1.2"/><circle cx="285.2" cy="123.1" r="3.0" fill="none" stroke="#e06b2c" stroke-width="1.2"/><circle cx="285.6" cy="123.8" r="3.0" fill="none" stroke="#e06b2c" stroke-width="1.2"/><circle cx="285.9" cy="124.8" r="3.0" fill="none" stroke="#e06b2c" stroke-width="1.2"/><circle cx="286.3" cy="123.7" r="3.0" fill="none" stroke="#e06b2c" stroke-width="1.2"/><circle cx="286.6" cy="124.0" r="3.0" fill="none" stroke="#e06b2c" stroke-width="1.2"/><circle cx="286.8" cy="123.6" r="3.0" fill="none" stroke="#e06b2c" stroke-width="1.2"/><circle cx="287.9" cy="122.8" r="3.0" fill="none" stroke="#e06b2c" stroke-width="1.2"/><circle cx="288.6" cy="123.8" r="3.0" fill="none" stroke="#e06b2c" stroke-width="1.2"/><circle cx="289.1" cy="122.8" r="3.0" fill="none" stroke="#e06b2c" stroke-width="1.2"/><circle cx="289.8" cy="124.2" r="3.0" fill="none" stroke="#e06b2c" stroke-width="1.2"/><circle cx="290.0" cy="122.5" r="3.0" fill="none" stroke="#e06b2c" stroke-width="1.2"/><circle cx="290.2" cy="123.3" r="3.0" fill="none" stroke="#e06b2c" stroke-width="1.2"/><circle cx="290.7" cy="123.7" r="3.0" fill="none" stroke="#e06b2c" stroke-width="1.2"/><circle cx="290.9" cy="123.2" r="3.0" fill="none" stroke="#e06b2c" stroke-width="1.2"/><circle cx="291.2" cy="123.6" r="3.0" fill="none" stroke="#e06b2c" stroke-width="1.2"/><circle cx="291.4" cy="122.7" r="3.0" fill="none" stroke="#e06b2c" stroke-width="1.2"/><circle cx="291.9" cy="123.0" r="3.0" fill="none" stroke="#e06b2c" stroke-width="1.2"/><circle cx="292.8" cy="124.0" r="3.0" fill="none" stroke="#e06b2c" stroke-width="1.2"/><circle cx="293.2" cy="123.1" r="3.0" fill="none" stroke="#e06b2c" stroke-width="1.2"/><circle cx="293.5" cy="123.6" r="3.0" fill="none" stroke="#e06b2c" stroke-width="1.2"/><circle cx="293.7" cy="123.4" r="3.0" fill="none" stroke="#e06b2c" stroke-width="1.2"/><circle cx="294.2" cy="122.9" r="3.0" fill="none" stroke="#e06b2c" stroke-width="1.2"/><circle cx="294.4" cy="123.6" r="3.0" fill="none" stroke="#e06b2c" stroke-width="1.2"/><circle cx="295.1" cy="123.1" r="3.0" fill="none" stroke="#e06b2c" stroke-width="1.2"/><circle cx="295.3" cy="123.9" r="3.0" fill="none" stroke="#e06b2c" stroke-width="1.2"/><circle cx="295.5" cy="122.7" r="3.0" fill="none" stroke="#e06b2c" stroke-width="1.2"/><circle cx="296.0" cy="122.8" r="3.0" fill="none" stroke="#e06b2c" stroke-width="1.2"/><circle cx="296.7" cy="122.8" r="3.0" fill="none" stroke="#e06b2c" stroke-width="1.2"/><circle cx="297.8" cy="122.8" r="3.0" fill="none" stroke="#e06b2c" stroke-width="1.2"/><circle cx="298.1" cy="123.6" r="3.0" fill="none" stroke="#e06b2c" stroke-width="1.2"/><circle cx="298.3" cy="123.9" r="3.0" fill="none" stroke="#e06b2c" stroke-width="1.2"/><circle cx="298.5" cy="122.5" r="3.0" fill="none" stroke="#e06b2c" stroke-width="1.2"/><circle cx="298.8" cy="124.1" r="3.0" fill="none" stroke="#e06b2c" stroke-width="1.2"/><circle cx="299.0" cy="123.2" r="3.0" fill="none" stroke="#e06b2c" stroke-width="1.2"/><circle cx="300.2" cy="123.0" r="3.0" fill="none" stroke="#e06b2c" stroke-width="1.2"/><circle cx="300.4" cy="123.6" r="3.0" fill="none" stroke="#e06b2c" stroke-width="1.2"/><circle cx="300.8" cy="123.3" r="3.0" fill="none" stroke="#e06b2c" stroke-width="1.2"/><circle cx="301.1" cy="123.3" r="3.0" fill="none" stroke="#e06b2c" stroke-width="1.2"/><circle cx="301.8" cy="123.0" r="3.0" fill="none" stroke="#e06b2c" stroke-width="1.2"/><circle cx="302.0" cy="123.2" r="3.0" fill="none" stroke="#e06b2c" stroke-width="1.2"/><circle cx="302.7" cy="122.7" r="3.0" fill="none" stroke="#e06b2c" stroke-width="1.2"/><circle cx="303.1" cy="122.7" r="3.0" fill="none" stroke="#e06b2c" stroke-width="1.2"/><circle cx="303.8" cy="122.5" r="3.0" fill="none" stroke="#e06b2c" stroke-width="1.2"/><circle cx="304.1" cy="122.6" r="3.0" fill="none" stroke="#e06b2c" stroke-width="1.2"/><circle cx="305.2" cy="123.1" r="3.0" fill="none" stroke="#e06b2c" stroke-width="1.2"/><circle cx="305.9" cy="123.2" r="3.0" fill="none" stroke="#e06b2c" stroke-width="1.2"/><circle cx="306.1" cy="124.0" r="3.0" fill="none" stroke="#e06b2c" stroke-width="1.2"/><circle cx="306.8" cy="123.1" r="3.0" fill="none" stroke="#e06b2c" stroke-width="1.2"/><circle cx="307.3" cy="123.0" r="3.0" fill="none" stroke="#e06b2c" stroke-width="1.2"/><circle cx="307.5" cy="123.5" r="3.0" fill="none" stroke="#e06b2c" stroke-width="1.2"/><circle cx="307.8" cy="123.4" r="3.0" fill="none" stroke="#e06b2c" stroke-width="1.2"/><circle cx="308.4" cy="122.5" r="3.0" fill="none" stroke="#e06b2c" stroke-width="1.2"/><circle cx="308.7" cy="122.5" r="3.0" fill="none" stroke="#e06b2c" stroke-width="1.2"/><circle cx="309.1" cy="122.8" r="3.0" fill="none" stroke="#e06b2c" stroke-width="1.2"/><circle cx="309.4" cy="123.1" r="3.0" fill="none" stroke="#e06b2c" stroke-width="1.2"/><circle cx="309.6" cy="122.6" r="3.0" fill="none" stroke="#e06b2c" stroke-width="1.2"/><circle cx="310.3" cy="123.4" r="3.0" fill="none" stroke="#e06b2c" stroke-width="1.2"/><circle cx="310.5" cy="122.7" r="3.0" fill="none" stroke="#e06b2c" stroke-width="1.2"/><circle cx="310.7" cy="122.8" r="3.0" fill="none" stroke="#e06b2c" stroke-width="1.2"/><circle cx="311.7" cy="123.5" r="3.0" fill="none" stroke="#e06b2c" stroke-width="1.2"/><circle cx="312.1" cy="122.3" r="3.0" fill="none" stroke="#e06b2c" stroke-width="1.2"/><circle cx="312.4" cy="123.2" r="3.0" fill="none" stroke="#e06b2c" stroke-width="1.2"/><circle cx="312.6" cy="122.8" r="3.0" fill="none" stroke="#e06b2c" stroke-width="1.2"/><circle cx="313.0" cy="124.1" r="3.0" fill="none" stroke="#e06b2c" stroke-width="1.2"/><circle cx="313.3" cy="124.0" r="3.0" fill="none" stroke="#e06b2c" stroke-width="1.2"/><circle cx="313.5" cy="123.2" r="3.0" fill="none" stroke="#e06b2c" stroke-width="1.2"/><circle cx="314.2" cy="122.8" r="3.0" fill="none" stroke="#e06b2c" stroke-width="1.2"/><circle cx="314.7" cy="122.4" r="3.0" fill="none" stroke="#e06b2c" stroke-width="1.2"/><circle cx="315.8" cy="123.6" r="3.0" fill="none" stroke="#e06b2c" stroke-width="1.2"/><circle cx="316.0" cy="122.5" r="3.0" fill="none" stroke="#e06b2c" stroke-width="1.2"/><circle cx="316.5" cy="123.8" r="3.0" fill="none" stroke="#e06b2c" stroke-width="1.2"/><circle cx="316.7" cy="122.6" r="3.0" fill="none" stroke="#e06b2c" stroke-width="1.2"/><circle cx="317.2" cy="121.8" r="3.0" fill="none" stroke="#e06b2c" stroke-width="1.2"/><circle cx="317.7" cy="122.5" r="3.0" fill="none" stroke="#e06b2c" stroke-width="1.2"/><circle cx="318.1" cy="123.9" r="3.0" fill="none" stroke="#e06b2c" stroke-width="1.2"/><circle cx="318.6" cy="123.4" r="3.0" fill="none" stroke="#e06b2c" stroke-width="1.2"/><circle cx="319.0" cy="123.8" r="3.0" fill="none" stroke="#e06b2c" stroke-width="1.2"/><circle cx="319.3" cy="123.9" r="3.0" fill="none" stroke="#e06b2c" stroke-width="1.2"/><circle cx="320.0" cy="124.0" r="3.0" fill="none" stroke="#e06b2c" stroke-width="1.2"/><circle cx="320.2" cy="123.6" r="3.0" fill="none" stroke="#e06b2c" stroke-width="1.2"/></g>
<g><circle cx="109.0" cy="120.7" r="3.5" fill="#0d3a77"/><circle cx="109.2" cy="118.1" r="3.5" fill="#0d3a77"/><circle cx="109.5" cy="120.4" r="3.5" fill="#0d3a77"/><circle cx="109.7" cy="121.2" r="3.5" fill="#0d3a77"/><circle cx="109.9" cy="112.6" r="3.5" fill="#0d3a77"/><circle cx="110.2" cy="118.8" r="3.5" fill="#0d3a77"/><circle cx="110.4" cy="110.8" r="3.5" fill="#0d3a77"/><circle cx="110.6" cy="120.7" r="3.5" fill="#0d3a77"/><circle cx="110.8" cy="118.2" r="3.5" fill="#0d3a77"/><circle cx="111.1" cy="121.1" r="3.5" fill="#0d3a77"/><circle cx="111.3" cy="117.3" r="3.5" fill="#0d3a77"/><circle cx="111.5" cy="119.2" r="3.5" fill="#0d3a77"/><circle cx="111.8" cy="121.1" r="3.5" fill="#0d3a77"/><circle cx="112.0" cy="120.9" r="3.5" fill="#0d3a77"/><circle cx="112.2" cy="121.4" r="3.5" fill="#0d3a77"/><circle cx="112.5" cy="113.1" r="3.5" fill="#0d3a77"/><circle cx="112.7" cy="118.3" r="3.5" fill="#0d3a77"/><circle cx="112.9" cy="121.4" r="3.5" fill="#0d3a77"/><circle cx="113.1" cy="116.1" r="3.5" fill="#0d3a77"/><circle cx="113.4" cy="116.5" r="3.5" fill="#0d3a77"/><circle cx="113.6" cy="117.2" r="3.5" fill="#0d3a77"/><circle cx="113.8" cy="120.6" r="3.5" fill="#0d3a77"/><circle cx="114.1" cy="119.1" r="3.5" fill="#0d3a77"/><circle cx="114.3" cy="118.9" r="3.5" fill="#0d3a77"/><circle cx="114.5" cy="115.0" r="3.5" fill="#0d3a77"/><circle cx="114.8" cy="120.9" r="3.5" fill="#0d3a77"/><circle cx="115.0" cy="116.7" r="3.5" fill="#0d3a77"/><circle cx="115.2" cy="117.4" r="3.5" fill="#0d3a77"/><circle cx="115.5" cy="119.3" r="3.5" fill="#0d3a77"/><circle cx="115.7" cy="113.1" r="3.5" fill="#0d3a77"/><circle cx="115.9" cy="114.4" r="3.5" fill="#0d3a77"/><circle cx="116.1" cy="117.8" r="3.5" fill="#0d3a77"/><circle cx="116.4" cy="121.8" r="3.5" fill="#0d3a77"/><circle cx="116.6" cy="119.9" r="3.5" fill="#0d3a77"/><circle cx="116.8" cy="117.6" r="3.5" fill="#0d3a77"/><circle cx="117.1" cy="118.4" r="3.5" fill="#0d3a77"/><circle cx="117.3" cy="116.8" r="3.5" fill="#0d3a77"/><circle cx="117.5" cy="118.9" r="3.5" fill="#0d3a77"/><circle cx="117.8" cy="120.4" r="3.5" fill="#0d3a77"/><circle cx="118.0" cy="121.4" r="3.5" fill="#0d3a77"/><circle cx="118.2" cy="121.4" r="3.5" fill="#0d3a77"/><circle cx="118.4" cy="119.2" r="3.5" fill="#0d3a77"/><circle cx="118.7" cy="119.7" r="3.5" fill="#0d3a77"/><circle cx="118.9" cy="121.2" r="3.5" fill="#0d3a77"/><circle cx="119.1" cy="118.6" r="3.5" fill="#0d3a77"/><circle cx="119.4" cy="119.1" r="3.5" fill="#0d3a77"/><circle cx="119.6" cy="118.5" r="3.5" fill="#0d3a77"/><circle cx="119.8" cy="119.3" r="3.5" fill="#0d3a77"/><circle cx="120.1" cy="120.3" r="3.5" fill="#0d3a77"/><circle cx="120.3" cy="121.6" r="3.5" fill="#0d3a77"/><circle cx="120.5" cy="121.0" r="3.5" fill="#0d3a77"/><circle cx="120.7" cy="120.8" r="3.5" fill="#0d3a77"/><circle cx="121.0" cy="117.8" r="3.5" fill="#0d3a77"/><circle cx="121.2" cy="120.3" r="3.5" fill="#0d3a77"/><circle cx="121.4" cy="120.8" r="3.5" fill="#0d3a77"/><circle cx="121.7" cy="119.4" r="3.5" fill="#0d3a77"/><circle cx="121.9" cy="118.4" r="3.5" fill="#0d3a77"/><circle cx="122.1" cy="120.7" r="3.5" fill="#0d3a77"/><circle cx="122.4" cy="118.3" r="3.5" fill="#0d3a77"/><circle cx="122.6" cy="119.1" r="3.5" fill="#0d3a77"/><circle cx="122.8" cy="117.7" r="3.5" fill="#0d3a77"/><circle cx="123.1" cy="119.0" r="3.5" fill="#0d3a77"/><circle cx="123.3" cy="111.1" r="3.5" fill="#0d3a77"/><circle cx="123.5" cy="120.0" r="3.5" fill="#0d3a77"/><circle cx="123.7" cy="115.3" r="3.5" fill="#0d3a77"/><circle cx="124.0" cy="119.1" r="3.5" fill="#0d3a77"/><circle cx="124.2" cy="120.6" r="3.5" fill="#0d3a77"/><circle cx="124.4" cy="117.9" r="3.5" fill="#0d3a77"/><circle cx="124.7" cy="120.9" r="3.5" fill="#0d3a77"/><circle cx="124.9" cy="120.7" r="3.5" fill="#0d3a77"/><circle cx="125.1" cy="118.4" r="3.5" fill="#0d3a77"/><circle cx="125.4" cy="121.2" r="3.5" fill="#0d3a77"/><circle cx="125.6" cy="119.6" r="3.5" fill="#0d3a77"/><circle cx="125.8" cy="120.1" r="3.5" fill="#0d3a77"/><circle cx="126.0" cy="120.2" r="3.5" fill="#0d3a77"/><circle cx="126.3" cy="121.4" r="3.5" fill="#0d3a77"/><circle cx="126.5" cy="121.1" r="3.5" fill="#0d3a77"/><circle cx="126.7" cy="121.2" r="3.5" fill="#0d3a77"/><circle cx="127.0" cy="121.6" r="3.5" fill="#0d3a77"/><circle cx="127.2" cy="118.7" r="3.5" fill="#0d3a77"/><circle cx="127.4" cy="121.0" r="3.5" fill="#0d3a77"/><circle cx="127.7" cy="118.8" r="3.5" fill="#0d3a77"/><circle cx="127.9" cy="117.7" r="3.5" fill="#0d3a77"/><circle cx="128.1" cy="118.4" r="3.5" fill="#0d3a77"/><circle cx="128.3" cy="119.3" r="3.5" fill="#0d3a77"/><circle cx="128.6" cy="120.1" r="3.5" fill="#0d3a77"/><circle cx="128.8" cy="120.5" r="3.5" fill="#0d3a77"/><circle cx="129.0" cy="121.7" r="3.5" fill="#0d3a77"/><circle cx="129.3" cy="116.9" r="3.5" fill="#0d3a77"/><circle cx="129.5" cy="120.6" r="3.5" fill="#0d3a77"/><circle cx="129.7" cy="120.8" r="3.5" fill="#0d3a77"/><circle cx="130.0" cy="119.3" r="3.5" fill="#0d3a77"/><circle cx="130.2" cy="117.4" r="3.5" fill="#0d3a77"/><circle cx="130.4" cy="118.8" r="3.5" fill="#0d3a77"/><circle cx="130.7" cy="118.2" r="3.5" fill="#0d3a77"/><circle cx="130.9" cy="119.3" r="3.5" fill="#0d3a77"/><circle cx="131.1" cy="118.9" r="3.5" fill="#0d3a77"/><circle cx="131.3" cy="120.9" r="3.5" fill="#0d3a77"/><circle cx="131.6" cy="120.9" r="3.5" fill="#0d3a77"/><circle cx="131.8" cy="116.0" r="3.5" fill="#0d3a77"/><circle cx="132.0" cy="120.3" r="3.5" fill="#0d3a77"/><circle cx="132.3" cy="117.4" r="3.5" fill="#0d3a77"/><circle cx="132.5" cy="121.1" r="3.5" fill="#0d3a77"/><circle cx="132.7" cy="118.5" r="3.5" fill="#0d3a77"/><circle cx="133.0" cy="121.3" r="3.5" fill="#0d3a77"/><circle cx="133.2" cy="118.6" r="3.5" fill="#0d3a77"/><circle cx="133.4" cy="120.1" r="3.5" fill="#0d3a77"/><circle cx="133.6" cy="118.8" r="3.5" fill="#0d3a77"/><circle cx="133.9" cy="121.7" r="3.5" fill="#0d3a77"/><circle cx="134.1" cy="121.1" r="3.5" fill="#0d3a77"/><circle cx="134.3" cy="118.9" r="3.5" fill="#0d3a77"/><circle cx="134.6" cy="120.8" r="3.5" fill="#0d3a77"/><circle cx="134.8" cy="120.8" r="3.5" fill="#0d3a77"/><circle cx="135.0" cy="118.8" r="3.5" fill="#0d3a77"/><circle cx="135.3" cy="121.7" r="3.5" fill="#0d3a77"/><circle cx="135.5" cy="121.5" r="3.5" fill="#0d3a77"/><circle cx="135.7" cy="121.4" r="3.5" fill="#0d3a77"/><circle cx="135.9" cy="120.0" r="3.5" fill="#0d3a77"/><circle cx="136.2" cy="121.5" r="3.5" fill="#0d3a77"/><circle cx="136.4" cy="120.8" r="3.5" fill="#0d3a77"/><circle cx="136.6" cy="121.7" r="3.5" fill="#0d3a77"/><circle cx="136.9" cy="121.1" r="3.5" fill="#0d3a77"/><circle cx="137.1" cy="120.3" r="3.5" fill="#0d3a77"/><circle cx="137.3" cy="121.2" r="3.5" fill="#0d3a77"/><circle cx="137.6" cy="120.8" r="3.5" fill="#0d3a77"/><circle cx="137.8" cy="119.9" r="3.5" fill="#0d3a77"/><circle cx="138.0" cy="119.4" r="3.5" fill="#0d3a77"/><circle cx="138.3" cy="119.5" r="3.5" fill="#0d3a77"/><circle cx="138.5" cy="120.5" r="3.5" fill="#0d3a77"/><circle cx="138.7" cy="120.8" r="3.5" fill="#0d3a77"/><circle cx="138.9" cy="120.7" r="3.5" fill="#0d3a77"/><circle cx="139.2" cy="117.3" r="3.5" fill="#0d3a77"/><circle cx="139.4" cy="121.3" r="3.5" fill="#0d3a77"/><circle cx="139.6" cy="121.6" r="3.5" fill="#0d3a77"/><circle cx="139.9" cy="119.9" r="3.5" fill="#0d3a77"/><circle cx="140.1" cy="120.6" r="3.5" fill="#0d3a77"/><circle cx="140.3" cy="117.6" r="3.5" fill="#0d3a77"/><circle cx="140.6" cy="117.4" r="3.5" fill="#0d3a77"/><circle cx="140.8" cy="119.9" r="3.5" fill="#0d3a77"/><circle cx="141.0" cy="113.4" r="3.5" fill="#0d3a77"/><circle cx="141.2" cy="119.7" r="3.5" fill="#0d3a77"/><circle cx="141.5" cy="120.4" r="3.5" fill="#0d3a77"/><circle cx="141.7" cy="120.1" r="3.5" fill="#0d3a77"/><circle cx="141.9" cy="121.4" r="3.5" fill="#0d3a77"/><circle cx="142.2" cy="115.7" r="3.5" fill="#0d3a77"/><circle cx="142.4" cy="119.9" r="3.5" fill="#0d3a77"/><circle cx="142.6" cy="117.5" r="3.5" fill="#0d3a77"/><circle cx="142.9" cy="116.2" r="3.5" fill="#0d3a77"/><circle cx="143.1" cy="121.7" r="3.5" fill="#0d3a77"/><circle cx="143.3" cy="113.8" r="3.5" fill="#0d3a77"/><circle cx="143.5" cy="118.4" r="3.5" fill="#0d3a77"/><circle cx="143.8" cy="121.1" r="3.5" fill="#0d3a77"/><circle cx="144.0" cy="119.9" r="3.5" fill="#0d3a77"/><circle cx="144.2" cy="119.9" r="3.5" fill="#0d3a77"/><circle cx="144.5" cy="119.4" r="3.5" fill="#0d3a77"/><circle cx="144.7" cy="120.0" r="3.5" fill="#0d3a77"/><circle cx="144.9" cy="119.4" r="3.5" fill="#0d3a77"/><circle cx="145.2" cy="118.2" r="3.5" fill="#0d3a77"/><circle cx="145.4" cy="121.5" r="3.5" fill="#0d3a77"/><circle cx="145.6" cy="115.5" r="3.5" fill="#0d3a77"/><circle cx="145.9" cy="116.5" r="3.5" fill="#0d3a77"/><circle cx="146.1" cy="120.8" r="3.5" fill="#0d3a77"/><circle cx="146.3" cy="119.1" r="3.5" fill="#0d3a77"/><circle cx="146.5" cy="114.4" r="3.5" fill="#0d3a77"/><circle cx="146.8" cy="121.3" r="3.5" fill="#0d3a77"/><circle cx="147.0" cy="109.0" r="3.5" fill="#0d3a77"/><circle cx="147.2" cy="121.0" r="3.5" fill="#0d3a77"/><circle cx="147.5" cy="118.9" r="3.5" fill="#0d3a77"/><circle cx="147.7" cy="121.7" r="3.5" fill="#0d3a77"/><circle cx="147.9" cy="113.4" r="3.5" fill="#0d3a77"/><circle cx="148.2" cy="118.2" r="3.5" fill="#0d3a77"/><circle cx="148.4" cy="118.6" r="3.5" fill="#0d3a77"/><circle cx="148.6" cy="115.3" r="3.5" fill="#0d3a77"/><circle cx="148.8" cy="121.4" r="3.5" fill="#0d3a77"/><circle cx="149.1" cy="115.4" r="3.5" fill="#0d3a77"/><circle cx="149.3" cy="117.3" r="3.5" fill="#0d3a77"/><circle cx="149.5" cy="120.1" r="3.5" fill="#0d3a77"/><circle cx="149.8" cy="121.3" r="3.5" fill="#0d3a77"/><circle cx="150.0" cy="118.1" r="3.5" fill="#0d3a77"/><circle cx="150.2" cy="121.2" r="3.5" fill="#0d3a77"/><circle cx="150.5" cy="120.9" r="3.5" fill="#0d3a77"/><circle cx="150.7" cy="118.8" r="3.5" fill="#0d3a77"/><circle cx="150.9" cy="121.6" r="3.5" fill="#0d3a77"/><circle cx="151.1" cy="121.2" r="3.5" fill="#0d3a77"/><circle cx="151.4" cy="118.3" r="3.5" fill="#0d3a77"/><circle cx="151.6" cy="121.6" r="3.5" fill="#0d3a77"/><circle cx="151.8" cy="121.7" r="3.5" fill="#0d3a77"/><circle cx="152.1" cy="118.6" r="3.5" fill="#0d3a77"/><circle cx="152.3" cy="120.6" r="3.5" fill="#0d3a77"/><circle cx="152.5" cy="120.0" r="3.5" fill="#0d3a77"/><circle cx="152.8" cy="121.0" r="3.5" fill="#0d3a77"/><circle cx="153.0" cy="121.7" r="3.5" fill="#0d3a77"/><circle cx="153.2" cy="120.1" r="3.5" fill="#0d3a77"/><circle cx="153.5" cy="118.5" r="3.5" fill="#0d3a77"/><circle cx="153.7" cy="120.2" r="3.5" fill="#0d3a77"/><circle cx="153.9" cy="120.3" r="3.5" fill="#0d3a77"/><circle cx="154.1" cy="119.3" r="3.5" fill="#0d3a77"/><circle cx="154.4" cy="118.5" r="3.5" fill="#0d3a77"/><circle cx="154.6" cy="119.6" r="3.5" fill="#0d3a77"/><circle cx="154.8" cy="117.6" r="3.5" fill="#0d3a77"/><circle cx="155.1" cy="120.4" r="3.5" fill="#0d3a77"/><circle cx="155.3" cy="121.0" r="3.5" fill="#0d3a77"/><circle cx="155.5" cy="121.3" r="3.5" fill="#0d3a77"/><circle cx="155.8" cy="116.4" r="3.5" fill="#0d3a77"/><circle cx="156.0" cy="118.3" r="3.5" fill="#0d3a77"/><circle cx="156.2" cy="120.9" r="3.5" fill="#0d3a77"/><circle cx="156.4" cy="116.6" r="3.5" fill="#0d3a77"/><circle cx="156.7" cy="117.0" r="3.5" fill="#0d3a77"/><circle cx="156.9" cy="116.2" r="3.5" fill="#0d3a77"/><circle cx="157.1" cy="120.8" r="3.5" fill="#0d3a77"/><circle cx="157.4" cy="119.2" r="3.5" fill="#0d3a77"/><circle cx="157.6" cy="118.8" r="3.5" fill="#0d3a77"/><circle cx="157.8" cy="116.2" r="3.5" fill="#0d3a77"/><circle cx="158.1" cy="121.0" r="3.5" fill="#0d3a77"/><circle cx="158.3" cy="114.4" r="3.5" fill="#0d3a77"/><circle cx="158.5" cy="114.6" r="3.5" fill="#0d3a77"/><circle cx="158.7" cy="121.3" r="3.5" fill="#0d3a77"/><circle cx="159.0" cy="117.5" r="3.5" fill="#0d3a77"/><circle cx="159.2" cy="117.0" r="3.5" fill="#0d3a77"/><circle cx="159.4" cy="118.4" r="3.5" fill="#0d3a77"/><circle cx="159.7" cy="118.2" r="3.5" fill="#0d3a77"/><circle cx="159.9" cy="119.8" r="3.5" fill="#0d3a77"/><circle cx="160.1" cy="121.4" r="3.5" fill="#0d3a77"/><circle cx="160.4" cy="121.7" r="3.5" fill="#0d3a77"/><circle cx="160.6" cy="115.5" r="3.5" fill="#0d3a77"/><circle cx="160.8" cy="111.1" r="3.5" fill="#0d3a77"/><circle cx="161.1" cy="121.6" r="3.5" fill="#0d3a77"/><circle cx="161.3" cy="113.2" r="3.5" fill="#0d3a77"/><circle cx="161.5" cy="121.2" r="3.5" fill="#0d3a77"/><circle cx="161.7" cy="117.5" r="3.5" fill="#0d3a77"/><circle cx="162.0" cy="120.3" r="3.5" fill="#0d3a77"/><circle cx="162.2" cy="119.7" r="3.5" fill="#0d3a77"/><circle cx="162.4" cy="121.5" r="3.5" fill="#0d3a77"/><circle cx="162.7" cy="121.7" r="3.5" fill="#0d3a77"/><circle cx="162.9" cy="117.1" r="3.5" fill="#0d3a77"/><circle cx="163.1" cy="114.7" r="3.5" fill="#0d3a77"/><circle cx="163.4" cy="118.7" r="3.5" fill="#0d3a77"/><circle cx="163.6" cy="116.4" r="3.5" fill="#0d3a77"/><circle cx="163.8" cy="114.8" r="3.5" fill="#0d3a77"/><circle cx="164.0" cy="121.0" r="3.5" fill="#0d3a77"/><circle cx="164.3" cy="114.5" r="3.5" fill="#0d3a77"/><circle cx="164.5" cy="114.2" r="3.5" fill="#0d3a77"/><circle cx="164.7" cy="121.2" r="3.5" fill="#0d3a77"/><circle cx="165.0" cy="116.3" r="3.5" fill="#0d3a77"/><circle cx="165.2" cy="120.8" r="3.5" fill="#0d3a77"/><circle cx="165.4" cy="120.7" r="3.5" fill="#0d3a77"/><circle cx="165.7" cy="119.9" r="3.5" fill="#0d3a77"/><circle cx="165.9" cy="118.5" r="3.5" fill="#0d3a77"/><circle cx="166.1" cy="120.6" r="3.5" fill="#0d3a77"/><circle cx="166.3" cy="120.3" r="3.5" fill="#0d3a77"/><circle cx="166.6" cy="117.4" r="3.5" fill="#0d3a77"/><circle cx="166.8" cy="119.6" r="3.5" fill="#0d3a77"/><circle cx="167.0" cy="118.8" r="3.5" fill="#0d3a77"/><circle cx="167.3" cy="118.2" r="3.5" fill="#0d3a77"/><circle cx="167.5" cy="119.0" r="3.5" fill="#0d3a77"/><circle cx="167.7" cy="117.7" r="3.5" fill="#0d3a77"/><circle cx="168.0" cy="121.4" r="3.5" fill="#0d3a77"/><circle cx="168.2" cy="118.2" r="3.5" fill="#0d3a77"/><circle cx="168.4" cy="114.7" r="3.5" fill="#0d3a77"/><circle cx="168.7" cy="121.4" r="3.5" fill="#0d3a77"/><circle cx="168.9" cy="116.3" r="3.5" fill="#0d3a77"/><circle cx="169.1" cy="119.1" r="3.5" fill="#0d3a77"/><circle cx="169.3" cy="119.9" r="3.5" fill="#0d3a77"/><circle cx="169.6" cy="120.2" r="3.5" fill="#0d3a77"/><circle cx="169.8" cy="118.5" r="3.5" fill="#0d3a77"/><circle cx="170.0" cy="115.7" r="3.5" fill="#0d3a77"/><circle cx="170.3" cy="120.6" r="3.5" fill="#0d3a77"/><circle cx="170.5" cy="115.9" r="3.5" fill="#0d3a77"/><circle cx="170.7" cy="120.9" r="3.5" fill="#0d3a77"/><circle cx="171.0" cy="121.2" r="3.5" fill="#0d3a77"/><circle cx="171.2" cy="120.7" r="3.5" fill="#0d3a77"/><circle cx="171.4" cy="118.3" r="3.5" fill="#0d3a77"/><circle cx="178.6" cy="120.7" r="3.5" fill="#0d3a77"/><circle cx="178.8" cy="121.3" r="3.5" fill="#0d3a77"/><circle cx="179.0" cy="121.8" r="3.5" fill="#0d3a77"/><circle cx="179.2" cy="119.8" r="3.5" fill="#0d3a77"/><circle cx="179.5" cy="120.5" r="3.5" fill="#0d3a77"/><circle cx="179.7" cy="119.7" r="3.5" fill="#0d3a77"/><circle cx="179.9" cy="119.3" r="3.5" fill="#0d3a77"/><circle cx="180.2" cy="119.5" r="3.5" fill="#0d3a77"/><circle cx="180.4" cy="121.4" r="3.5" fill="#0d3a77"/><circle cx="180.6" cy="120.2" r="3.5" fill="#0d3a77"/><circle cx="180.9" cy="119.2" r="3.5" fill="#0d3a77"/><circle cx="181.1" cy="117.4" r="3.5" fill="#0d3a77"/><circle cx="181.3" cy="120.7" r="3.5" fill="#0d3a77"/><circle cx="181.5" cy="120.9" r="3.5" fill="#0d3a77"/><circle cx="181.8" cy="117.1" r="3.5" fill="#0d3a77"/><circle cx="182.0" cy="115.3" r="3.5" fill="#0d3a77"/><circle cx="182.2" cy="120.7" r="3.5" fill="#0d3a77"/><circle cx="182.5" cy="115.5" r="3.5" fill="#0d3a77"/><circle cx="182.7" cy="118.9" r="3.5" fill="#0d3a77"/><circle cx="182.9" cy="119.9" r="3.5" fill="#0d3a77"/><circle cx="183.2" cy="121.7" r="3.5" fill="#0d3a77"/><circle cx="183.4" cy="120.2" r="3.5" fill="#0d3a77"/><circle cx="183.6" cy="109.6" r="3.5" fill="#0d3a77"/><circle cx="183.9" cy="121.3" r="3.5" fill="#0d3a77"/><circle cx="184.1" cy="118.6" r="3.5" fill="#0d3a77"/><circle cx="184.3" cy="114.9" r="3.5" fill="#0d3a77"/><circle cx="184.5" cy="117.7" r="3.5" fill="#0d3a77"/><circle cx="184.8" cy="115.4" r="3.5" fill="#0d3a77"/><circle cx="185.0" cy="118.0" r="3.5" fill="#0d3a77"/><circle cx="185.2" cy="120.4" r="3.5" fill="#0d3a77"/><circle cx="185.5" cy="119.1" r="3.5" fill="#0d3a77"/><circle cx="185.7" cy="120.8" r="3.5" fill="#0d3a77"/><circle cx="185.9" cy="118.0" r="3.5" fill="#0d3a77"/><circle cx="186.2" cy="119.3" r="3.5" fill="#0d3a77"/><circle cx="186.4" cy="120.8" r="3.5" fill="#0d3a77"/><circle cx="186.6" cy="117.7" r="3.5" fill="#0d3a77"/><circle cx="186.8" cy="121.7" r="3.5" fill="#0d3a77"/><circle cx="187.1" cy="119.3" r="3.5" fill="#0d3a77"/><circle cx="187.3" cy="115.4" r="3.5" fill="#0d3a77"/><circle cx="187.5" cy="121.2" r="3.5" fill="#0d3a77"/><circle cx="187.8" cy="119.0" r="3.5" fill="#0d3a77"/><circle cx="188.0" cy="120.5" r="3.5" fill="#0d3a77"/><circle cx="188.2" cy="120.1" r="3.5" fill="#0d3a77"/><circle cx="188.5" cy="120.3" r="3.5" fill="#0d3a77"/><circle cx="188.7" cy="121.7" r="3.5" fill="#0d3a77"/><circle cx="188.9" cy="118.2" r="3.5" fill="#0d3a77"/><circle cx="189.1" cy="120.1" r="3.5" fill="#0d3a77"/><circle cx="189.4" cy="119.7" r="3.5" fill="#0d3a77"/><circle cx="189.6" cy="120.1" r="3.5" fill="#0d3a77"/><circle cx="189.8" cy="121.6" r="3.5" fill="#0d3a77"/><circle cx="190.1" cy="118.9" r="3.5" fill="#0d3a77"/><circle cx="190.3" cy="121.7" r="3.5" fill="#0d3a77"/><circle cx="190.5" cy="118.7" r="3.5" fill="#0d3a77"/><circle cx="190.8" cy="120.8" r="3.5" fill="#0d3a77"/><circle cx="191.0" cy="118.4" r="3.5" fill="#0d3a77"/><circle cx="191.2" cy="120.9" r="3.5" fill="#0d3a77"/><circle cx="191.5" cy="117.0" r="3.5" fill="#0d3a77"/><circle cx="191.7" cy="121.7" r="3.5" fill="#0d3a77"/><circle cx="191.9" cy="121.7" r="3.5" fill="#0d3a77"/><circle cx="192.1" cy="120.2" r="3.5" fill="#0d3a77"/><circle cx="192.4" cy="121.7" r="3.5" fill="#0d3a77"/><circle cx="192.6" cy="121.8" r="3.5" fill="#0d3a77"/><circle cx="192.8" cy="121.4" r="3.5" fill="#0d3a77"/><circle cx="193.1" cy="118.0" r="3.5" fill="#0d3a77"/><circle cx="193.3" cy="121.5" r="3.5" fill="#0d3a77"/><circle cx="193.5" cy="120.8" r="3.5" fill="#0d3a77"/><circle cx="193.8" cy="121.7" r="3.5" fill="#0d3a77"/><circle cx="194.0" cy="118.2" r="3.5" fill="#0d3a77"/><circle cx="194.2" cy="120.3" r="3.5" fill="#0d3a77"/><circle cx="194.4" cy="119.1" r="3.5" fill="#0d3a77"/><circle cx="194.7" cy="118.6" r="3.5" fill="#0d3a77"/><circle cx="194.9" cy="119.9" r="3.5" fill="#0d3a77"/><circle cx="195.1" cy="118.4" r="3.5" fill="#0d3a77"/><circle cx="195.4" cy="121.2" r="3.5" fill="#0d3a77"/><circle cx="195.6" cy="117.3" r="3.5" fill="#0d3a77"/><circle cx="195.8" cy="120.7" r="3.5" fill="#0d3a77"/><circle cx="196.1" cy="121.0" r="3.5" fill="#0d3a77"/><circle cx="196.3" cy="118.1" r="3.5" fill="#0d3a77"/><circle cx="196.5" cy="120.4" r="3.5" fill="#0d3a77"/><circle cx="196.7" cy="119.7" r="3.5" fill="#0d3a77"/><circle cx="197.0" cy="119.4" r="3.5" fill="#0d3a77"/><circle cx="197.2" cy="117.6" r="3.5" fill="#0d3a77"/><circle cx="197.4" cy="120.3" r="3.5" fill="#0d3a77"/><circle cx="197.7" cy="116.3" r="3.5" fill="#0d3a77"/><circle cx="197.9" cy="118.1" r="3.5" fill="#0d3a77"/><circle cx="198.1" cy="121.5" r="3.5" fill="#0d3a77"/><circle cx="198.4" cy="121.7" r="3.5" fill="#0d3a77"/><circle cx="198.6" cy="121.2" r="3.5" fill="#0d3a77"/><circle cx="198.8" cy="120.8" r="3.5" fill="#0d3a77"/><circle cx="199.1" cy="118.3" r="3.5" fill="#0d3a77"/><circle cx="199.3" cy="119.2" r="3.5" fill="#0d3a77"/><circle cx="199.5" cy="118.8" r="3.5" fill="#0d3a77"/><circle cx="199.7" cy="118.8" r="3.5" fill="#0d3a77"/><circle cx="200.0" cy="120.4" r="3.5" fill="#0d3a77"/><circle cx="200.2" cy="120.9" r="3.5" fill="#0d3a77"/><circle cx="200.4" cy="119.9" r="3.5" fill="#0d3a77"/><circle cx="200.7" cy="117.2" r="3.5" fill="#0d3a77"/><circle cx="200.9" cy="121.0" r="3.5" fill="#0d3a77"/><circle cx="201.1" cy="117.1" r="3.5" fill="#0d3a77"/><circle cx="201.4" cy="118.3" r="3.5" fill="#0d3a77"/><circle cx="201.6" cy="120.1" r="3.5" fill="#0d3a77"/><circle cx="201.8" cy="120.5" r="3.5" fill="#0d3a77"/><circle cx="202.0" cy="118.9" r="3.5" fill="#0d3a77"/><circle cx="202.3" cy="118.5" r="3.5" fill="#0d3a77"/><circle cx="202.5" cy="120.1" r="3.5" fill="#0d3a77"/><circle cx="202.7" cy="118.2" r="3.5" fill="#0d3a77"/><circle cx="203.0" cy="116.6" r="3.5" fill="#0d3a77"/><circle cx="203.2" cy="118.9" r="3.5" fill="#0d3a77"/><circle cx="203.4" cy="113.0" r="3.5" fill="#0d3a77"/><circle cx="203.7" cy="118.9" r="3.5" fill="#0d3a77"/><circle cx="203.9" cy="116.3" r="3.5" fill="#0d3a77"/><circle cx="204.1" cy="121.7" r="3.5" fill="#0d3a77"/><circle cx="204.3" cy="120.9" r="3.5" fill="#0d3a77"/><circle cx="204.6" cy="112.8" r="3.5" fill="#0d3a77"/><circle cx="204.8" cy="120.5" r="3.5" fill="#0d3a77"/><circle cx="205.0" cy="120.5" r="3.5" fill="#0d3a77"/><circle cx="205.3" cy="121.7" r="3.5" fill="#0d3a77"/><circle cx="205.5" cy="120.2" r="3.5" fill="#0d3a77"/><circle cx="205.7" cy="116.6" r="3.5" fill="#0d3a77"/><circle cx="206.0" cy="120.4" r="3.5" fill="#0d3a77"/><circle cx="206.2" cy="116.7" r="3.5" fill="#0d3a77"/><circle cx="206.4" cy="120.1" r="3.5" fill="#0d3a77"/><circle cx="206.7" cy="120.4" r="3.5" fill="#0d3a77"/><circle cx="206.9" cy="119.3" r="3.5" fill="#0d3a77"/><circle cx="207.1" cy="120.7" r="3.5" fill="#0d3a77"/><circle cx="207.3" cy="120.4" r="3.5" fill="#0d3a77"/><circle cx="207.6" cy="118.2" r="3.5" fill="#0d3a77"/><circle cx="207.8" cy="118.5" r="3.5" fill="#0d3a77"/><circle cx="208.0" cy="120.0" r="3.5" fill="#0d3a77"/><circle cx="208.3" cy="118.0" r="3.5" fill="#0d3a77"/><circle cx="208.5" cy="119.0" r="3.5" fill="#0d3a77"/><circle cx="208.7" cy="119.1" r="3.5" fill="#0d3a77"/><circle cx="209.0" cy="118.9" r="3.5" fill="#0d3a77"/><circle cx="209.2" cy="120.6" r="3.5" fill="#0d3a77"/><circle cx="209.4" cy="118.1" r="3.5" fill="#0d3a77"/><circle cx="209.6" cy="116.9" r="3.5" fill="#0d3a77"/><circle cx="209.9" cy="119.4" r="3.5" fill="#0d3a77"/><circle cx="210.1" cy="118.1" r="3.5" fill="#0d3a77"/><circle cx="210.3" cy="116.7" r="3.5" fill="#0d3a77"/><circle cx="210.6" cy="119.8" r="3.5" fill="#0d3a77"/><circle cx="210.8" cy="117.2" r="3.5" fill="#0d3a77"/><circle cx="211.0" cy="120.7" r="3.5" fill="#0d3a77"/><circle cx="211.3" cy="119.3" r="3.5" fill="#0d3a77"/><circle cx="211.5" cy="119.0" r="3.5" fill="#0d3a77"/><circle cx="211.7" cy="116.0" r="3.5" fill="#0d3a77"/><circle cx="211.9" cy="117.7" r="3.5" fill="#0d3a77"/><circle cx="212.2" cy="121.1" r="3.5" fill="#0d3a77"/><circle cx="212.4" cy="117.8" r="3.5" fill="#0d3a77"/><circle cx="212.6" cy="119.7" r="3.5" fill="#0d3a77"/><circle cx="212.9" cy="121.2" r="3.5" fill="#0d3a77"/><circle cx="213.1" cy="120.2" r="3.5" fill="#0d3a77"/><circle cx="213.3" cy="121.2" r="3.5" fill="#0d3a77"/><circle cx="213.6" cy="119.4" r="3.5" fill="#0d3a77"/><circle cx="213.8" cy="118.8" r="3.5" fill="#0d3a77"/><circle cx="214.0" cy="117.8" r="3.5" fill="#0d3a77"/><circle cx="214.2" cy="119.7" r="3.5" fill="#0d3a77"/><circle cx="214.5" cy="119.5" r="3.5" fill="#0d3a77"/><circle cx="214.7" cy="116.3" r="3.5" fill="#0d3a77"/><circle cx="214.9" cy="119.3" r="3.5" fill="#0d3a77"/><circle cx="215.2" cy="121.7" r="3.5" fill="#0d3a77"/><circle cx="215.4" cy="121.1" r="3.5" fill="#0d3a77"/><circle cx="215.6" cy="117.0" r="3.5" fill="#0d3a77"/><circle cx="215.9" cy="119.5" r="3.5" fill="#0d3a77"/><circle cx="216.1" cy="120.9" r="3.5" fill="#0d3a77"/><circle cx="216.3" cy="115.5" r="3.5" fill="#0d3a77"/><circle cx="216.6" cy="118.9" r="3.5" fill="#0d3a77"/><circle cx="216.8" cy="111.7" r="3.5" fill="#0d3a77"/><circle cx="217.0" cy="121.8" r="3.5" fill="#0d3a77"/><circle cx="217.2" cy="121.1" r="3.5" fill="#0d3a77"/><circle cx="217.5" cy="117.1" r="3.5" fill="#0d3a77"/><circle cx="217.7" cy="117.9" r="3.5" fill="#0d3a77"/><circle cx="217.9" cy="120.7" r="3.5" fill="#0d3a77"/><circle cx="218.2" cy="120.2" r="3.5" fill="#0d3a77"/><circle cx="218.4" cy="120.3" r="3.5" fill="#0d3a77"/><circle cx="218.6" cy="115.2" r="3.5" fill="#0d3a77"/><circle cx="218.9" cy="121.6" r="3.5" fill="#0d3a77"/><circle cx="219.1" cy="120.6" r="3.5" fill="#0d3a77"/><circle cx="219.3" cy="119.3" r="3.5" fill="#0d3a77"/><circle cx="219.5" cy="115.1" r="3.5" fill="#0d3a77"/><circle cx="219.8" cy="119.7" r="3.5" fill="#0d3a77"/><circle cx="220.0" cy="118.3" r="3.5" fill="#0d3a77"/><circle cx="220.2" cy="113.8" r="3.5" fill="#0d3a77"/><circle cx="220.5" cy="118.4" r="3.5" fill="#0d3a77"/><circle cx="220.7" cy="117.4" r="3.5" fill="#0d3a77"/><circle cx="220.9" cy="116.6" r="3.5" fill="#0d3a77"/><circle cx="221.2" cy="113.6" r="3.5" fill="#0d3a77"/><circle cx="221.4" cy="120.7" r="3.5" fill="#0d3a77"/><circle cx="221.6" cy="119.3" r="3.5" fill="#0d3a77"/><circle cx="221.8" cy="114.9" r="3.5" fill="#0d3a77"/><circle cx="222.1" cy="117.8" r="3.5" fill="#0d3a77"/><circle cx="222.3" cy="120.2" r="3.5" fill="#0d3a77"/><circle cx="222.5" cy="117.7" r="3.5" fill="#0d3a77"/><circle cx="222.8" cy="110.4" r="3.5" fill="#0d3a77"/><circle cx="223.0" cy="120.8" r="3.5" fill="#0d3a77"/><circle cx="223.2" cy="120.1" r="3.5" fill="#0d3a77"/><circle cx="223.5" cy="121.5" r="3.5" fill="#0d3a77"/><circle cx="223.7" cy="118.0" r="3.5" fill="#0d3a77"/><circle cx="223.9" cy="121.7" r="3.5" fill="#0d3a77"/><circle cx="224.2" cy="117.2" r="3.5" fill="#0d3a77"/><circle cx="224.4" cy="119.9" r="3.5" fill="#0d3a77"/><circle cx="224.6" cy="118.2" r="3.5" fill="#0d3a77"/><circle cx="224.8" cy="117.8" r="3.5" fill="#0d3a77"/><circle cx="225.1" cy="120.1" r="3.5" fill="#0d3a77"/><circle cx="225.3" cy="120.3" r="3.5" fill="#0d3a77"/><circle cx="225.5" cy="120.9" r="3.5" fill="#0d3a77"/><circle cx="225.8" cy="118.6" r="3.5" fill="#0d3a77"/><circle cx="226.0" cy="120.1" r="3.5" fill="#0d3a77"/><circle cx="226.2" cy="120.1" r="3.5" fill="#0d3a77"/><circle cx="226.5" cy="118.7" r="3.5" fill="#0d3a77"/><circle cx="226.7" cy="121.3" r="3.5" fill="#0d3a77"/><circle cx="226.9" cy="120.8" r="3.5" fill="#0d3a77"/><circle cx="227.1" cy="121.5" r="3.5" fill="#0d3a77"/><circle cx="227.4" cy="117.8" r="3.5" fill="#0d3a77"/><circle cx="227.6" cy="119.7" r="3.5" fill="#0d3a77"/><circle cx="227.8" cy="120.9" r="3.5" fill="#0d3a77"/><circle cx="228.1" cy="121.6" r="3.5" fill="#0d3a77"/><circle cx="228.3" cy="118.0" r="3.5" fill="#0d3a77"/><circle cx="228.5" cy="121.1" r="3.5" fill="#0d3a77"/><circle cx="228.8" cy="121.5" r="3.5" fill="#0d3a77"/><circle cx="229.0" cy="121.6" r="3.5" fill="#0d3a77"/><circle cx="229.2" cy="120.9" r="3.5" fill="#0d3a77"/><circle cx="229.4" cy="119.3" r="3.5" fill="#0d3a77"/><circle cx="229.7" cy="117.3" r="3.5" fill="#0d3a77"/><circle cx="229.9" cy="118.7" r="3.5" fill="#0d3a77"/><circle cx="230.1" cy="118.9" r="3.5" fill="#0d3a77"/><circle cx="230.4" cy="120.3" r="3.5" fill="#0d3a77"/><circle cx="230.6" cy="119.8" r="3.5" fill="#0d3a77"/><circle cx="230.8" cy="120.0" r="3.5" fill="#0d3a77"/><circle cx="231.1" cy="119.0" r="3.5" fill="#0d3a77"/><circle cx="231.3" cy="121.2" r="3.5" fill="#0d3a77"/><circle cx="231.5" cy="120.3" r="3.5" fill="#0d3a77"/><circle cx="231.8" cy="120.7" r="3.5" fill="#0d3a77"/><circle cx="232.0" cy="120.2" r="3.5" fill="#0d3a77"/><circle cx="232.2" cy="118.5" r="3.5" fill="#0d3a77"/><circle cx="232.4" cy="120.3" r="3.5" fill="#0d3a77"/><circle cx="232.7" cy="120.3" r="3.5" fill="#0d3a77"/><circle cx="232.9" cy="117.4" r="3.5" fill="#0d3a77"/><circle cx="233.1" cy="120.5" r="3.5" fill="#0d3a77"/><circle cx="233.4" cy="121.1" r="3.5" fill="#0d3a77"/><circle cx="233.6" cy="121.6" r="3.5" fill="#0d3a77"/><circle cx="233.8" cy="119.7" r="3.5" fill="#0d3a77"/><circle cx="234.1" cy="119.4" r="3.5" fill="#0d3a77"/><circle cx="234.3" cy="119.9" r="3.5" fill="#0d3a77"/><circle cx="234.5" cy="120.4" r="3.5" fill="#0d3a77"/><circle cx="234.7" cy="121.2" r="3.5" fill="#0d3a77"/><circle cx="235.0" cy="121.3" r="3.5" fill="#0d3a77"/><circle cx="235.2" cy="120.0" r="3.5" fill="#0d3a77"/><circle cx="235.4" cy="120.5" r="3.5" fill="#0d3a77"/><circle cx="235.7" cy="121.7" r="3.5" fill="#0d3a77"/><circle cx="235.9" cy="120.6" r="3.5" fill="#0d3a77"/><circle cx="236.1" cy="121.5" r="3.5" fill="#0d3a77"/><circle cx="236.4" cy="116.4" r="3.5" fill="#0d3a77"/><circle cx="236.6" cy="117.3" r="3.5" fill="#0d3a77"/><circle cx="236.8" cy="121.0" r="3.5" fill="#0d3a77"/><circle cx="237.0" cy="118.6" r="3.5" fill="#0d3a77"/><circle cx="237.3" cy="119.6" r="3.5" fill="#0d3a77"/><circle cx="237.5" cy="117.8" r="3.5" fill="#0d3a77"/><circle cx="237.7" cy="116.7" r="3.5" fill="#0d3a77"/><circle cx="238.0" cy="118.4" r="3.5" fill="#0d3a77"/><circle cx="238.2" cy="120.6" r="3.5" fill="#0d3a77"/><circle cx="238.4" cy="118.2" r="3.5" fill="#0d3a77"/><circle cx="238.7" cy="121.2" r="3.5" fill="#0d3a77"/><circle cx="238.9" cy="114.1" r="3.5" fill="#0d3a77"/><circle cx="239.1" cy="118.2" r="3.5" fill="#0d3a77"/><circle cx="239.4" cy="120.9" r="3.5" fill="#0d3a77"/><circle cx="239.6" cy="116.0" r="3.5" fill="#0d3a77"/><circle cx="239.8" cy="110.8" r="3.5" fill="#0d3a77"/><circle cx="240.0" cy="116.1" r="3.5" fill="#0d3a77"/><circle cx="240.3" cy="113.4" r="3.5" fill="#0d3a77"/><circle cx="240.5" cy="115.9" r="3.5" fill="#0d3a77"/><circle cx="240.7" cy="119.7" r="3.5" fill="#0d3a77"/><circle cx="241.0" cy="115.9" r="3.5" fill="#0d3a77"/><circle cx="241.2" cy="121.6" r="3.5" fill="#0d3a77"/><circle cx="241.4" cy="116.6" r="3.5" fill="#0d3a77"/><circle cx="241.7" cy="121.2" r="3.5" fill="#0d3a77"/><circle cx="241.9" cy="120.4" r="3.5" fill="#0d3a77"/><circle cx="242.1" cy="119.8" r="3.5" fill="#0d3a77"/><circle cx="242.3" cy="116.6" r="3.5" fill="#0d3a77"/><circle cx="242.6" cy="116.6" r="3.5" fill="#0d3a77"/><circle cx="242.8" cy="120.5" r="3.5" fill="#0d3a77"/><circle cx="243.0" cy="119.6" r="3.5" fill="#0d3a77"/><circle cx="243.3" cy="118.4" r="3.5" fill="#0d3a77"/><circle cx="243.5" cy="121.3" r="3.5" fill="#0d3a77"/><circle cx="243.7" cy="119.5" r="3.5" fill="#0d3a77"/><circle cx="244.0" cy="116.7" r="3.5" fill="#0d3a77"/><circle cx="244.2" cy="120.3" r="3.5" fill="#0d3a77"/><circle cx="244.4" cy="119.1" r="3.5" fill="#0d3a77"/><circle cx="244.6" cy="118.3" r="3.5" fill="#0d3a77"/><circle cx="244.9" cy="120.5" r="3.5" fill="#0d3a77"/><circle cx="245.1" cy="116.8" r="3.5" fill="#0d3a77"/><circle cx="245.3" cy="117.6" r="3.5" fill="#0d3a77"/><circle cx="253.6" cy="118.1" r="3.5" fill="#0d3a77"/><circle cx="253.9" cy="118.2" r="3.5" fill="#0d3a77"/><circle cx="254.1" cy="116.1" r="3.5" fill="#0d3a77"/><circle cx="254.3" cy="109.6" r="3.5" fill="#0d3a77"/><circle cx="254.6" cy="114.5" r="3.5" fill="#0d3a77"/><circle cx="254.8" cy="116.5" r="3.5" fill="#0d3a77"/><circle cx="255.0" cy="119.3" r="3.5" fill="#0d3a77"/><circle cx="255.2" cy="108.7" r="3.5" fill="#0d3a77"/><circle cx="255.5" cy="118.1" r="3.5" fill="#0d3a77"/><circle cx="255.7" cy="120.2" r="3.5" fill="#0d3a77"/><circle cx="255.9" cy="111.5" r="3.5" fill="#0d3a77"/><circle cx="256.2" cy="120.6" r="3.5" fill="#0d3a77"/><circle cx="256.4" cy="117.6" r="3.5" fill="#0d3a77"/><circle cx="256.6" cy="117.8" r="3.5" fill="#0d3a77"/><circle cx="256.9" cy="118.8" r="3.5" fill="#0d3a77"/><circle cx="257.1" cy="120.0" r="3.5" fill="#0d3a77"/><circle cx="257.3" cy="115.3" r="3.5" fill="#0d3a77"/><circle cx="257.5" cy="120.3" r="3.5" fill="#0d3a77"/><circle cx="257.8" cy="118.6" r="3.5" fill="#0d3a77"/><circle cx="258.0" cy="120.3" r="3.5" fill="#0d3a77"/><circle cx="258.2" cy="114.9" r="3.5" fill="#0d3a77"/><circle cx="258.5" cy="119.3" r="3.5" fill="#0d3a77"/><circle cx="258.7" cy="117.5" r="3.5" fill="#0d3a77"/><circle cx="258.9" cy="116.6" r="3.5" fill="#0d3a77"/><circle cx="259.2" cy="120.5" r="3.5" fill="#0d3a77"/><circle cx="259.4" cy="119.0" r="3.5" fill="#0d3a77"/><circle cx="259.6" cy="120.4" r="3.5" fill="#0d3a77"/><circle cx="259.8" cy="115.5" r="3.5" fill="#0d3a77"/><circle cx="260.1" cy="118.8" r="3.5" fill="#0d3a77"/><circle cx="260.3" cy="117.3" r="3.5" fill="#0d3a77"/><circle cx="260.5" cy="120.8" r="3.5" fill="#0d3a77"/><circle cx="260.8" cy="114.5" r="3.5" fill="#0d3a77"/><circle cx="261.0" cy="113.6" r="3.5" fill="#0d3a77"/><circle cx="261.2" cy="116.5" r="3.5" fill="#0d3a77"/><circle cx="261.5" cy="116.9" r="3.5" fill="#0d3a77"/><circle cx="261.7" cy="117.8" r="3.5" fill="#0d3a77"/><circle cx="261.9" cy="120.4" r="3.5" fill="#0d3a77"/><circle cx="262.2" cy="113.1" r="3.5" fill="#0d3a77"/><circle cx="262.4" cy="109.1" r="3.5" fill="#0d3a77"/><circle cx="262.6" cy="117.2" r="3.5" fill="#0d3a77"/><circle cx="262.8" cy="114.8" r="3.5" fill="#0d3a77"/><circle cx="263.1" cy="117.4" r="3.5" fill="#0d3a77"/><circle cx="263.3" cy="118.1" r="3.5" fill="#0d3a77"/><circle cx="263.5" cy="120.7" r="3.5" fill="#0d3a77"/><circle cx="263.8" cy="114.0" r="3.5" fill="#0d3a77"/><circle cx="264.0" cy="116.0" r="3.5" fill="#0d3a77"/><circle cx="264.2" cy="109.0" r="3.5" fill="#0d3a77"/><circle cx="264.5" cy="120.4" r="3.5" fill="#0d3a77"/><circle cx="264.7" cy="107.8" r="3.5" fill="#0d3a77"/><circle cx="264.9" cy="115.3" r="3.5" fill="#0d3a77"/><circle cx="265.1" cy="105.0" r="3.5" fill="#0d3a77"/><circle cx="265.4" cy="120.8" r="3.5" fill="#0d3a77"/><circle cx="265.6" cy="115.1" r="3.5" fill="#0d3a77"/><circle cx="265.8" cy="113.3" r="3.5" fill="#0d3a77"/><circle cx="266.1" cy="109.1" r="3.5" fill="#0d3a77"/><circle cx="266.3" cy="111.8" r="3.5" fill="#0d3a77"/><circle cx="266.5" cy="110.1" r="3.5" fill="#0d3a77"/><circle cx="266.8" cy="117.4" r="3.5" fill="#0d3a77"/><circle cx="267.0" cy="119.5" r="3.5" fill="#0d3a77"/><circle cx="267.2" cy="117.0" r="3.5" fill="#0d3a77"/><circle cx="267.4" cy="105.6" r="3.5" fill="#0d3a77"/><circle cx="267.7" cy="117.5" r="3.5" fill="#0d3a77"/><circle cx="267.9" cy="107.4" r="3.5" fill="#0d3a77"/><circle cx="268.1" cy="120.0" r="3.5" fill="#0d3a77"/><circle cx="268.4" cy="118.9" r="3.5" fill="#0d3a77"/><circle cx="268.6" cy="119.2" r="3.5" fill="#0d3a77"/><circle cx="268.8" cy="120.7" r="3.5" fill="#0d3a77"/><circle cx="269.1" cy="116.9" r="3.5" fill="#0d3a77"/><circle cx="269.3" cy="118.8" r="3.5" fill="#0d3a77"/><circle cx="269.5" cy="114.8" r="3.5" fill="#0d3a77"/><circle cx="269.8" cy="116.9" r="3.5" fill="#0d3a77"/><circle cx="270.0" cy="119.9" r="3.5" fill="#0d3a77"/><circle cx="270.2" cy="120.2" r="3.5" fill="#0d3a77"/><circle cx="270.4" cy="118.8" r="3.5" fill="#0d3a77"/><circle cx="270.7" cy="117.5" r="3.5" fill="#0d3a77"/><circle cx="270.9" cy="118.9" r="3.5" fill="#0d3a77"/><circle cx="271.1" cy="113.4" r="3.5" fill="#0d3a77"/><circle cx="271.4" cy="117.1" r="3.5" fill="#0d3a77"/><circle cx="271.6" cy="120.6" r="3.5" fill="#0d3a77"/><circle cx="271.8" cy="114.1" r="3.5" fill="#0d3a77"/><circle cx="272.1" cy="118.7" r="3.5" fill="#0d3a77"/><circle cx="272.3" cy="114.3" r="3.5" fill="#0d3a77"/><circle cx="272.5" cy="113.2" r="3.5" fill="#0d3a77"/><circle cx="272.7" cy="120.5" r="3.5" fill="#0d3a77"/><circle cx="273.0" cy="117.9" r="3.5" fill="#0d3a77"/><circle cx="273.2" cy="120.5" r="3.5" fill="#0d3a77"/><circle cx="273.4" cy="115.4" r="3.5" fill="#0d3a77"/><circle cx="273.7" cy="115.6" r="3.5" fill="#0d3a77"/><circle cx="273.9" cy="115.4" r="3.5" fill="#0d3a77"/><circle cx="274.1" cy="114.7" r="3.5" fill="#0d3a77"/><circle cx="274.4" cy="119.2" r="3.5" fill="#0d3a77"/><circle cx="274.6" cy="116.8" r="3.5" fill="#0d3a77"/><circle cx="274.8" cy="116.6" r="3.5" fill="#0d3a77"/><circle cx="275.0" cy="118.7" r="3.5" fill="#0d3a77"/><circle cx="275.3" cy="113.7" r="3.5" fill="#0d3a77"/><circle cx="275.5" cy="116.1" r="3.5" fill="#0d3a77"/><circle cx="275.7" cy="112.8" r="3.5" fill="#0d3a77"/><circle cx="276.0" cy="109.0" r="3.5" fill="#0d3a77"/><circle cx="276.2" cy="113.4" r="3.5" fill="#0d3a77"/><circle cx="276.4" cy="111.8" r="3.5" fill="#0d3a77"/><circle cx="276.7" cy="113.6" r="3.5" fill="#0d3a77"/><circle cx="276.9" cy="118.5" r="3.5" fill="#0d3a77"/><circle cx="277.1" cy="116.3" r="3.5" fill="#0d3a77"/><circle cx="277.4" cy="117.6" r="3.5" fill="#0d3a77"/><circle cx="277.6" cy="116.6" r="3.5" fill="#0d3a77"/><circle cx="277.8" cy="110.1" r="3.5" fill="#0d3a77"/><circle cx="278.0" cy="114.6" r="3.5" fill="#0d3a77"/><circle cx="278.3" cy="115.5" r="3.5" fill="#0d3a77"/><circle cx="278.5" cy="119.4" r="3.5" fill="#0d3a77"/><circle cx="278.7" cy="110.1" r="3.5" fill="#0d3a77"/><circle cx="279.0" cy="111.4" r="3.5" fill="#0d3a77"/><circle cx="279.2" cy="113.3" r="3.5" fill="#0d3a77"/><circle cx="279.4" cy="117.8" r="3.5" fill="#0d3a77"/><circle cx="279.7" cy="113.8" r="3.5" fill="#0d3a77"/><circle cx="279.9" cy="117.3" r="3.5" fill="#0d3a77"/><circle cx="280.1" cy="108.9" r="3.5" fill="#0d3a77"/><circle cx="280.3" cy="114.5" r="3.5" fill="#0d3a77"/><circle cx="280.6" cy="117.3" r="3.5" fill="#0d3a77"/><circle cx="280.8" cy="116.5" r="3.5" fill="#0d3a77"/><circle cx="281.0" cy="118.6" r="3.5" fill="#0d3a77"/><circle cx="281.3" cy="115.5" r="3.5" fill="#0d3a77"/><circle cx="281.5" cy="105.0" r="3.5" fill="#0d3a77"/><circle cx="281.7" cy="117.6" r="3.5" fill="#0d3a77"/><circle cx="282.0" cy="120.6" r="3.5" fill="#0d3a77"/><circle cx="282.2" cy="116.3" r="3.5" fill="#0d3a77"/><circle cx="282.4" cy="110.0" r="3.5" fill="#0d3a77"/><circle cx="282.6" cy="107.3" r="3.5" fill="#0d3a77"/><circle cx="282.9" cy="119.2" r="3.5" fill="#0d3a77"/><circle cx="283.1" cy="120.4" r="3.5" fill="#0d3a77"/><circle cx="283.3" cy="114.4" r="3.5" fill="#0d3a77"/><circle cx="283.6" cy="118.8" r="3.5" fill="#0d3a77"/><circle cx="283.8" cy="105.0" r="3.5" fill="#0d3a77"/><circle cx="284.0" cy="116.5" r="3.5" fill="#0d3a77"/><circle cx="284.3" cy="107.0" r="3.5" fill="#0d3a77"/><circle cx="284.5" cy="109.4" r="3.5" fill="#0d3a77"/><circle cx="284.7" cy="105.4" r="3.5" fill="#0d3a77"/><circle cx="285.0" cy="115.5" r="3.5" fill="#0d3a77"/><circle cx="285.2" cy="119.8" r="3.5" fill="#0d3a77"/><circle cx="285.4" cy="114.8" r="3.5" fill="#0d3a77"/><circle cx="285.6" cy="120.6" r="3.5" fill="#0d3a77"/><circle cx="285.9" cy="113.3" r="3.5" fill="#0d3a77"/><circle cx="286.1" cy="117.5" r="3.5" fill="#0d3a77"/><circle cx="286.3" cy="115.4" r="3.5" fill="#0d3a77"/><circle cx="286.6" cy="111.3" r="3.5" fill="#0d3a77"/><circle cx="286.8" cy="120.7" r="3.5" fill="#0d3a77"/><circle cx="287.0" cy="120.6" r="3.5" fill="#0d3a77"/><circle cx="287.3" cy="118.6" r="3.5" fill="#0d3a77"/><circle cx="287.5" cy="116.2" r="3.5" fill="#0d3a77"/><circle cx="287.7" cy="115.7" r="3.5" fill="#0d3a77"/><circle cx="287.9" cy="119.5" r="3.5" fill="#0d3a77"/><circle cx="288.2" cy="119.7" r="3.5" fill="#0d3a77"/><circle cx="288.4" cy="116.8" r="3.5" fill="#0d3a77"/><circle cx="288.6" cy="119.9" r="3.5" fill="#0d3a77"/><circle cx="288.9" cy="119.6" r="3.5" fill="#0d3a77"/><circle cx="289.1" cy="116.3" r="3.5" fill="#0d3a77"/><circle cx="289.3" cy="117.9" r="3.5" fill="#0d3a77"/><circle cx="289.6" cy="116.4" r="3.5" fill="#0d3a77"/><circle cx="289.8" cy="119.7" r="3.5" fill="#0d3a77"/><circle cx="290.0" cy="117.5" r="3.5" fill="#0d3a77"/><circle cx="290.2" cy="119.3" r="3.5" fill="#0d3a77"/><circle cx="290.5" cy="118.5" r="3.5" fill="#0d3a77"/><circle cx="290.7" cy="116.5" r="3.5" fill="#0d3a77"/><circle cx="290.9" cy="117.2" r="3.5" fill="#0d3a77"/><circle cx="291.2" cy="119.6" r="3.5" fill="#0d3a77"/><circle cx="291.4" cy="120.1" r="3.5" fill="#0d3a77"/><circle cx="291.6" cy="114.2" r="3.5" fill="#0d3a77"/><circle cx="291.9" cy="119.2" r="3.5" fill="#0d3a77"/><circle cx="292.1" cy="113.3" r="3.5" fill="#0d3a77"/><circle cx="292.3" cy="117.5" r="3.5" fill="#0d3a77"/><circle cx="292.6" cy="119.4" r="3.5" fill="#0d3a77"/><circle cx="292.8" cy="115.7" r="3.5" fill="#0d3a77"/><circle cx="293.0" cy="110.1" r="3.5" fill="#0d3a77"/><circle cx="293.2" cy="120.3" r="3.5" fill="#0d3a77"/><circle cx="293.5" cy="118.3" r="3.5" fill="#0d3a77"/><circle cx="293.7" cy="119.2" r="3.5" fill="#0d3a77"/><circle cx="293.9" cy="117.6" r="3.5" fill="#0d3a77"/><circle cx="294.2" cy="109.1" r="3.5" fill="#0d3a77"/><circle cx="294.4" cy="109.2" r="3.5" fill="#0d3a77"/><circle cx="294.6" cy="105.0" r="3.5" fill="#0d3a77"/><circle cx="294.9" cy="120.2" r="3.5" fill="#0d3a77"/><circle cx="295.1" cy="118.7" r="3.5" fill="#0d3a77"/><circle cx="295.3" cy="109.2" r="3.5" fill="#0d3a77"/><circle cx="295.5" cy="108.9" r="3.5" fill="#0d3a77"/><circle cx="295.8" cy="118.0" r="3.5" fill="#0d3a77"/><circle cx="296.0" cy="117.8" r="3.5" fill="#0d3a77"/><circle cx="296.2" cy="113.5" r="3.5" fill="#0d3a77"/><circle cx="296.5" cy="116.7" r="3.5" fill="#0d3a77"/><circle cx="296.7" cy="115.8" r="3.5" fill="#0d3a77"/><circle cx="296.9" cy="118.8" r="3.5" fill="#0d3a77"/><circle cx="297.2" cy="118.2" r="3.5" fill="#0d3a77"/><circle cx="297.4" cy="113.1" r="3.5" fill="#0d3a77"/><circle cx="297.6" cy="120.4" r="3.5" fill="#0d3a77"/><circle cx="297.8" cy="117.3" r="3.5" fill="#0d3a77"/><circle cx="298.1" cy="117.4" r="3.5" fill="#0d3a77"/><circle cx="298.3" cy="119.9" r="3.5" fill="#0d3a77"/><circle cx="298.5" cy="119.5" r="3.5" fill="#0d3a77"/><circle cx="298.8" cy="120.6" r="3.5" fill="#0d3a77"/><circle cx="299.0" cy="118.1" r="3.5" fill="#0d3a77"/><circle cx="299.2" cy="119.5" r="3.5" fill="#0d3a77"/><circle cx="299.5" cy="117.8" r="3.5" fill="#0d3a77"/><circle cx="299.7" cy="120.7" r="3.5" fill="#0d3a77"/><circle cx="299.9" cy="117.7" r="3.5" fill="#0d3a77"/><circle cx="300.2" cy="119.9" r="3.5" fill="#0d3a77"/><circle cx="300.4" cy="119.2" r="3.5" fill="#0d3a77"/><circle cx="300.6" cy="120.3" r="3.5" fill="#0d3a77"/><circle cx="300.8" cy="118.9" r="3.5" fill="#0d3a77"/><circle cx="301.1" cy="116.9" r="3.5" fill="#0d3a77"/><circle cx="301.3" cy="120.2" r="3.5" fill="#0d3a77"/><circle cx="301.5" cy="120.8" r="3.5" fill="#0d3a77"/><circle cx="301.8" cy="114.9" r="3.5" fill="#0d3a77"/><circle cx="302.0" cy="115.7" r="3.5" fill="#0d3a77"/><circle cx="302.2" cy="120.2" r="3.5" fill="#0d3a77"/><circle cx="302.5" cy="116.5" r="3.5" fill="#0d3a77"/><circle cx="302.7" cy="118.6" r="3.5" fill="#0d3a77"/><circle cx="302.9" cy="120.0" r="3.5" fill="#0d3a77"/><circle cx="303.1" cy="118.5" r="3.5" fill="#0d3a77"/><circle cx="303.4" cy="114.4" r="3.5" fill="#0d3a77"/><circle cx="303.6" cy="116.3" r="3.5" fill="#0d3a77"/><circle cx="303.8" cy="120.6" r="3.5" fill="#0d3a77"/><circle cx="304.1" cy="118.6" r="3.5" fill="#0d3a77"/><circle cx="304.3" cy="115.7" r="3.5" fill="#0d3a77"/><circle cx="304.5" cy="120.7" r="3.5" fill="#0d3a77"/><circle cx="304.8" cy="113.2" r="3.5" fill="#0d3a77"/><circle cx="305.0" cy="108.6" r="3.5" fill="#0d3a77"/><circle cx="305.2" cy="117.1" r="3.5" fill="#0d3a77"/><circle cx="305.4" cy="118.5" r="3.5" fill="#0d3a77"/><circle cx="305.7" cy="117.1" r="3.5" fill="#0d3a77"/><circle cx="305.9" cy="119.2" r="3.5" fill="#0d3a77"/><circle cx="306.1" cy="116.7" r="3.5" fill="#0d3a77"/><circle cx="306.4" cy="113.3" r="3.5" fill="#0d3a77"/><circle cx="306.6" cy="115.6" r="3.5" fill="#0d3a77"/><circle cx="306.8" cy="113.3" r="3.5" fill="#0d3a77"/><circle cx="307.1" cy="110.9" r="3.5" fill="#0d3a77"/><circle cx="307.3" cy="117.3" r="3.5" fill="#0d3a77"/><circle cx="307.5" cy="112.3" r="3.5" fill="#0d3a77"/><circle cx="307.8" cy="119.8" r="3.5" fill="#0d3a77"/><circle cx="308.0" cy="105.0" r="3.5" fill="#0d3a77"/><circle cx="308.2" cy="109.3" r="3.5" fill="#0d3a77"/><circle cx="308.4" cy="112.7" r="3.5" fill="#0d3a77"/><circle cx="308.7" cy="117.3" r="3.5" fill="#0d3a77"/><circle cx="308.9" cy="108.7" r="3.5" fill="#0d3a77"/><circle cx="309.1" cy="118.2" r="3.5" fill="#0d3a77"/><circle cx="309.4" cy="119.9" r="3.5" fill="#0d3a77"/><circle cx="309.6" cy="118.7" r="3.5" fill="#0d3a77"/><circle cx="309.8" cy="118.6" r="3.5" fill="#0d3a77"/><circle cx="310.1" cy="116.6" r="3.5" fill="#0d3a77"/><circle cx="310.3" cy="119.3" r="3.5" fill="#0d3a77"/><circle cx="310.5" cy="117.3" r="3.5" fill="#0d3a77"/><circle cx="310.7" cy="119.1" r="3.5" fill="#0d3a77"/><circle cx="311.0" cy="118.3" r="3.5" fill="#0d3a77"/><circle cx="311.2" cy="118.5" r="3.5" fill="#0d3a77"/><circle cx="311.4" cy="117.6" r="3.5" fill="#0d3a77"/><circle cx="311.7" cy="117.6" r="3.5" fill="#0d3a77"/><circle cx="311.9" cy="114.0" r="3.5" fill="#0d3a77"/><circle cx="312.1" cy="119.4" r="3.5" fill="#0d3a77"/><circle cx="312.4" cy="114.5" r="3.5" fill="#0d3a77"/><circle cx="312.6" cy="118.8" r="3.5" fill="#0d3a77"/><circle cx="312.8" cy="115.4" r="3.5" fill="#0d3a77"/><circle cx="313.0" cy="115.7" r="3.5" fill="#0d3a77"/><circle cx="313.3" cy="120.4" r="3.5" fill="#0d3a77"/><circle cx="313.5" cy="118.0" r="3.5" fill="#0d3a77"/><circle cx="313.7" cy="119.4" r="3.5" fill="#0d3a77"/><circle cx="314.0" cy="113.2" r="3.5" fill="#0d3a77"/><circle cx="314.2" cy="111.5" r="3.5" fill="#0d3a77"/><circle cx="314.4" cy="120.7" r="3.5" fill="#0d3a77"/><circle cx="314.7" cy="116.5" r="3.5" fill="#0d3a77"/><circle cx="314.9" cy="114.5" r="3.5" fill="#0d3a77"/><circle cx="315.1" cy="120.5" r="3.5" fill="#0d3a77"/><circle cx="315.4" cy="115.2" r="3.5" fill="#0d3a77"/><circle cx="315.6" cy="111.5" r="3.5" fill="#0d3a77"/><circle cx="315.8" cy="120.7" r="3.5" fill="#0d3a77"/><circle cx="316.0" cy="117.3" r="3.5" fill="#0d3a77"/><circle cx="316.3" cy="118.5" r="3.5" fill="#0d3a77"/><circle cx="316.5" cy="118.5" r="3.5" fill="#0d3a77"/><circle cx="316.7" cy="119.1" r="3.5" fill="#0d3a77"/><circle cx="317.0" cy="117.1" r="3.5" fill="#0d3a77"/><circle cx="317.2" cy="117.4" r="3.5" fill="#0d3a77"/><circle cx="317.4" cy="119.6" r="3.5" fill="#0d3a77"/><circle cx="317.7" cy="116.5" r="3.5" fill="#0d3a77"/><circle cx="317.9" cy="118.3" r="3.5" fill="#0d3a77"/><circle cx="318.1" cy="118.1" r="3.5" fill="#0d3a77"/><circle cx="318.3" cy="119.2" r="3.5" fill="#0d3a77"/><circle cx="318.6" cy="120.0" r="3.5" fill="#0d3a77"/><circle cx="318.8" cy="119.6" r="3.5" fill="#0d3a77"/><circle cx="319.0" cy="119.2" r="3.5" fill="#0d3a77"/><circle cx="319.3" cy="117.3" r="3.5" fill="#0d3a77"/><circle cx="319.5" cy="120.6" r="3.5" fill="#0d3a77"/><circle cx="319.7" cy="120.5" r="3.5" fill="#0d3a77"/><circle cx="320.0" cy="119.8" r="3.5" fill="#0d3a77"/><circle cx="320.2" cy="119.5" r="3.5" fill="#0d3a77"/><circle cx="320.4" cy="117.8" r="3.5" fill="#0d3a77"/><circle cx="256.5" cy="103.0" r="3.5" fill="#0d3a77"/><circle cx="259.0" cy="101.0" r="3.5" fill="#0d3a77"/><circle cx="262.0" cy="101.5" r="3.5" fill="#0d3a77"/><circle cx="274.5" cy="102.2" r="3.5" fill="#0d3a77"/><circle cx="289.0" cy="103.0" r="3.5" fill="#0d3a77"/><circle cx="298.0" cy="101.0" r="3.5" fill="#0d3a77"/><circle cx="300.5" cy="99.5" r="3.5" fill="#0d3a77"/><circle cx="303.0" cy="101.5" r="3.5" fill="#0d3a77"/><circle cx="308.0" cy="103.4" r="3.5" fill="#0d3a77"/><circle cx="311.0" cy="103.4" r="3.5" fill="#0d3a77"/><circle cx="317.0" cy="107.0" r="3.5" fill="#0d3a77"/><circle cx="284.0" cy="107.0" r="3.5" fill="#0d3a77"/><circle cx="268.0" cy="107.5" r="3.5" fill="#0d3a77"/></g>
<g><path d="M244.0 129.7L247.0 124.7L250.0 129.7Z" fill="none" stroke="#000" stroke-width="1.3" stroke-linejoin="miter"/><path d="M96.6 127.1V115Q96.8 114 97.8 114H99.2V104.5Q99.4 103.7 100.2 103.7H105.2Q105.9 103.7 105.9 104.5V127.1Z" fill="#c0252a"/><path d="M169.6 127V119L172 112.5Q173 111.4 175 111.4H178Q179.6 111.6 179.6 113.3V127Z" fill="#c0252a"/><circle cx="179.6" cy="122.3" r="3.5" fill="#0d3a77"/><path d="M243.3 125.6V115.8Q243.5 114.8 245.1 114.5V105.8Q245.4 104.4 248 104.4Q250.6 104.4 250.8 105.8V114.5Q253.4 114.8 253.6 115.8V125.6Z" fill="#c0252a"/><circle cx="248.0" cy="104.6" r="2.1" fill="#0d3a77"/></g>
<g><circle cx="116.4" cy="107.4" r="3.2" fill="none" stroke="#e06b2c" stroke-width="1.4"/><circle cx="203.5" cy="106.1" r="3.2" fill="none" stroke="#e06b2c" stroke-width="1.4"/><circle cx="202.8" cy="128.0" r="3.2" fill="none" stroke="#e06b2c" stroke-width="1.4"/><circle cx="258.4" cy="128.7" r="3.2" fill="none" stroke="#e06b2c" stroke-width="1.4"/><circle cx="141.3" cy="91.0" r="3.2" fill="none" stroke="#e06b2c" stroke-width="1.4"/><circle cx="279.0" cy="39.7" r="3.2" fill="none" stroke="#e06b2c" stroke-width="1.4"/><circle cx="140.5" cy="34.4" r="3.5" fill="#0d3a77"/><circle cx="130.6" cy="45.3" r="3.5" fill="#0d3a77"/><circle cx="159.6" cy="73.4" r="3.5" fill="#0d3a77"/><circle cx="165.2" cy="71.0" r="3.5" fill="#0d3a77"/><circle cx="165.6" cy="80.0" r="3.5" fill="#0d3a77"/><circle cx="141.4" cy="94.5" r="3.5" fill="#0d3a77"/><circle cx="125.0" cy="96.8" r="3.5" fill="#0d3a77"/><circle cx="172.9" cy="92.9" r="3.5" fill="#0d3a77"/><circle cx="181.5" cy="51.5" r="3.5" fill="#0d3a77"/><circle cx="192.8" cy="70.2" r="3.5" fill="#0d3a77"/><circle cx="196.0" cy="72.8" r="3.5" fill="#0d3a77"/><circle cx="192.4" cy="80.0" r="3.5" fill="#0d3a77"/><circle cx="179.3" cy="99.9" r="3.5" fill="#0d3a77"/><circle cx="175.3" cy="103.3" r="3.5" fill="#0d3a77"/><circle cx="209.7" cy="100.9" r="3.5" fill="#0d3a77"/><circle cx="206.3" cy="108.9" r="3.5" fill="#0d3a77"/><circle cx="242.4" cy="48.4" r="3.5" fill="#0d3a77"/><circle cx="278.7" cy="43.4" r="3.5" fill="#0d3a77"/><circle cx="306.4" cy="71.0" r="3.5" fill="#0d3a77"/><circle cx="110.9" cy="103.9" r="3.5" fill="#0d3a77"/><circle cx="148.6" cy="104.9" r="3.5" fill="#0d3a77"/><circle cx="165.1" cy="101.3" r="3.5" fill="#0d3a77"/><path d="M98.6 35.0L102.3 27.8L106.0 35.0Z" fill="#f6c64f"/><path d="M99.5 39.6L103.2 32.4L106.9 39.6Z" fill="#f6c64f"/><path d="M96.3 41.8L100.0 34.6L103.7 41.8Z" fill="#f6c64f"/><path d="M94.1 42.1L97.8 34.9L101.5 42.1Z" fill="#f6c64f"/><path d="M172.8 34.1L176.5 26.9L180.2 34.1Z" fill="#f6c64f"/><path d="M171.8 39.1L175.5 31.9L179.2 39.1Z" fill="#f6c64f"/><path d="M169.6 41.6L173.3 34.4L177.0 41.6Z" fill="#f6c64f"/><path d="M169.9 50.1L173.6 42.9L177.3 50.1Z" fill="#f6c64f"/><path d="M169.6 69.7L173.3 62.5L177.0 69.7Z" fill="#f6c64f"/><path d="M246.1 36.1L249.8 28.9L253.5 36.1Z" fill="#f6c64f"/><path d="M247.1 41.1L250.8 33.9L254.5 41.1Z" fill="#f6c64f"/><path d="M243.6 47.1L247.3 39.9L251.0 47.1Z" fill="#f6c64f"/><path d="M243.3 51.1L247.0 43.9L250.7 51.1Z" fill="#f6c64f"/><path d="M95.9 30.5H104.3L99.6 40.8Z" fill="#7f8085"/><path d="M169.4 32.3H178.2L173.5 41.3Z" fill="#7f8085"/><path d="M243.4 32.2H251.8L247.0 42.1Z" fill="#7f8085"/><circle cx="242.4" cy="48.4" r="3.5" fill="#0d3a77"/></g>
<g font-family='"Liberation Sans", sans-serif' fill="#000">
<text x="8.0" y="17.9" font-size="15.7" font-weight="normal" text-anchor="start" stroke="#000" stroke-width="0.45">A.</text>
<text x="91.6" y="171.6" font-size="12.0" font-weight="normal" text-anchor="end" stroke="#000" stroke-width="0.3">0</text>
<text x="91.6" y="120.4" font-size="12.0" font-weight="normal" text-anchor="end" stroke="#000" stroke-width="0.3">100</text>
<text x="91.6" y="69.2" font-size="12.0" font-weight="normal" text-anchor="end" stroke="#000" stroke-width="0.3">200</text>
<text x="91.6" y="18.0" font-size="12.0" font-weight="normal" text-anchor="end" stroke="#000" stroke-width="0.3">300</text>
<text x="99.4" y="186" font-size="12.0" font-weight="normal" text-anchor="middle" stroke="#000" stroke-width="0.3">0</text>
<text x="214.6" y="186" font-size="12.0" font-weight="normal" text-anchor="middle" stroke="#000" stroke-width="0.3">500</text>
<text x="329.7" y="186" font-size="12.0" font-weight="normal" text-anchor="middle" stroke="#000" stroke-width="0.3">1000</text>
<text transform="translate(214.7,205.9) scale(0.95,1)" font-size="13.6" font-weight="bold" text-anchor="middle">Compound #</text>
<text transform="translate(66,89) rotate(-90)" font-size="13" font-weight="bold" text-anchor="middle">mP</text>
</g>
<g><circle cx="358.0" cy="41.1" r="3.6" fill="#0d3a77"/><rect x="354.0" y="51.0" width="8" height="7" fill="#c0252a"/><path d="M354.0 71.7L358.0 64.7L362.0 71.7Z" fill="#f6c64f"/><path d="M354.0 79.5L358.0 87.0L362.0 79.5Z" fill="#7f8085"/><circle cx="358.8" cy="128.5" r="3.1" fill="none" stroke="#e06b2c" stroke-width="1.6"/><path d="M356.4 145.8L359.3 140.2L362.2 145.8Z" fill="none" stroke="#000" stroke-width="1.7" stroke-linejoin="miter"/><path d="M357.1 154.1L360.0 159.7L362.9 154.1Z" fill="none" stroke="#7a3c1c" stroke-width="1.7" stroke-linejoin="miter"/></g>
<g font-family='"Liberation Sans", sans-serif' fill="#000" font-size="8.7" stroke="#000" stroke-width="0.12">
<text transform="translate(375.8,44.1) scale(0.94,1)">Test Compounds</text>
<text transform="translate(375.8,58.1) scale(0.94,1)">No Inhibition Control</text>
<text transform="translate(375.8,72.1) scale(0.94,1)">No Enzyme Control</text>
<text transform="translate(375.8,86.1) scale(0.94,1)">Control Compound</text>
<text transform="translate(376.8,131.6) scale(0.94,1)">Test Compounds (Interference)</text>
<text transform="translate(376.8,145.8) scale(0.94,1)">No Enzyme Control (Interference)</text>
<text transform="translate(377.6,160) scale(0.94,1)">Control Compound (Interference)</text>
</g>
<g stroke="#000" stroke-width="1.8" fill="none">
<path d="M104.6 230.9V369.8"/>
<path d="M98.7 356.9H104.6"/>
<path d="M98.7 331.7H104.6"/>
<path d="M98.7 306.5H104.6"/>
<path d="M98.7 281.3H104.6"/>
<path d="M98.7 256.1H104.6"/>
<path d="M98.7 230.9H104.6"/>
<path d="M103.69999999999999 369.8H311.5"/>
<path d="M104.6 369.8V375"/>
<path d="M112.4 369.8V372.6" stroke-width="1.2"/>
<path d="M116.9 369.8V372.6" stroke-width="1.2"/>
<path d="M120.2 369.8V372.6" stroke-width="1.2"/>
<path d="M122.7 369.8V372.6" stroke-width="1.2"/>
<path d="M124.7 369.8V372.6" stroke-width="1.2"/>
<path d="M126.5 369.8V372.6" stroke-width="1.2"/>
<path d="M128.0 369.8V372.6" stroke-width="1.2"/>
<path d="M129.3 369.8V372.6" stroke-width="1.2"/>
<path d="M130.5 369.8V375"/>
<path d="M138.2 369.8V372.6" stroke-width="1.2"/>
<path d="M142.8 369.8V372.6" stroke-width="1.2"/>
<path d="M146.0 369.8V372.6" stroke-width="1.2"/>
<path d="M148.5 369.8V372.6" stroke-width="1.2"/>
<path d="M150.6 369.8V372.6" stroke-width="1.2"/>
<path d="M152.3 369.8V372.6" stroke-width="1.2"/>
<path d="M153.8 369.8V372.6" stroke-width="1.2"/>
<path d="M155.1 369.8V372.6" stroke-width="1.2"/>
<path d="M156.3 369.8V375"/>
<path d="M164.1 369.8V372.6" stroke-width="1.2"/>
<path d="M168.7 369.8V372.6" stroke-width="1.2"/>
<path d="M171.9 369.8V372.6" stroke-width="1.2"/>
<path d="M174.4 369.8V372.6" stroke-width="1.2"/>
<path d="M176.4 369.8V372.6" stroke-width="1.2"/>
<path d="M178.2 369.8V372.6" stroke-width="1.2"/>
<path d="M179.7 369.8V372.6" stroke-width="1.2"/>
<path d="M181.0 369.8V372.6" stroke-width="1.2"/>
<path d="M182.2 369.8V375"/>
<path d="M190.0 369.8V372.6" stroke-width="1.2"/>
<path d="M194.5 369.8V372.6" stroke-width="1.2"/>
<path d="M197.7 369.8V372.6" stroke-width="1.2"/>
<path d="M200.3 369.8V372.6" stroke-width="1.2"/>
<path d="M202.3 369.8V372.6" stroke-width="1.2"/>
<path d="M204.0 369.8V372.6" stroke-width="1.2"/>
<path d="M205.5 369.8V372.6" stroke-width="1.2"/>
<path d="M206.9 369.8V372.6" stroke-width="1.2"/>
<path d="M208.0 369.8V375"/>
<path d="M215.8 369.8V372.6" stroke-width="1.2"/>
<path d="M220.4 369.8V372.6" stroke-width="1.2"/>
<path d="M223.6 369.8V372.6" stroke-width="1.2"/>
<path d="M226.1 369.8V372.6" stroke-width="1.2"/>
<path d="M228.2 369.8V372.6" stroke-width="1.2"/>
<path d="M229.9 369.8V372.6" stroke-width="1.2"/>
<path d="M231.4 369.8V372.6" stroke-width="1.2"/>
<path d="M232.7 369.8V372.6" stroke-width="1.2"/>
<path d="M233.9 369.8V375"/>
<path d="M241.7 369.8V372.6" stroke-width="1.2"/>
<path d="M246.2 369.8V372.6" stroke-width="1.2"/>
<path d="M249.5 369.8V372.6" stroke-width="1.2"/>
<path d="M252.0 369.8V372.6" stroke-width="1.2"/>
<path d="M254.0 369.8V372.6" stroke-width="1.2"/>
<path d="M255.8 369.8V372.6" stroke-width="1.2"/>
<path d="M257.3 369.8V372.6" stroke-width="1.2"/>
<path d="M258.6 369.8V372.6" stroke-width="1.2"/>
<path d="M259.8 369.8V375"/>
<path d="M267.5 369.8V372.6" stroke-width="1.2"/>
<path d="M272.1 369.8V372.6" stroke-width="1.2"/>
<path d="M275.3 369.8V372.6" stroke-width="1.2"/>
<path d="M277.8 369.8V372.6" stroke-width="1.2"/>
<path d="M279.9 369.8V372.6" stroke-width="1.2"/>
<path d="M281.6 369.8V372.6" stroke-width="1.2"/>
<path d="M283.1 369.8V372.6" stroke-width="1.2"/>
<path d="M284.4 369.8V372.6" stroke-width="1.2"/>
<path d="M285.6 369.8V375"/>
<path d="M293.4 369.8V372.6" stroke-width="1.2"/>
<path d="M298.0 369.8V372.6" stroke-width="1.2"/>
<path d="M301.2 369.8V372.6" stroke-width="1.2"/>
<path d="M303.7 369.8V372.6" stroke-width="1.2"/>
<path d="M305.7 369.8V372.6" stroke-width="1.2"/>
<path d="M307.5 369.8V372.6" stroke-width="1.2"/>
<path d="M309.0 369.8V372.6" stroke-width="1.2"/>
<path d="M310.3 369.8V372.6" stroke-width="1.2"/>
<path d="M311.5 369.8V375"/>
</g>
<path d="M140.1 327.2V369.8M137.1 327.2H143.1M137.1 369.8H143.1" stroke="#c0252a" stroke-width="1.1" fill="none"/><path d="M140.1 351.8V363.7M137.1 351.8H143.1M137.1 363.7H143.1" stroke="#0d3a77" stroke-width="1.1" fill="none"/><path d="M181.8 325.2V333.4M178.8 325.2H184.8M178.8 333.4H184.8" stroke="#0d3a77" stroke-width="1.1" fill="none"/><path d="M212.8 254.5V264.0M209.8 254.5H215.8M209.8 264.0H215.8" stroke="#0d3a77" stroke-width="1.1" fill="none"/><path d="M241.7 348.3V365M238.2 348.3H245.2M238.2 365H245.2" stroke="#f6c64f" stroke-width="1.1" fill="none"/><path d="M249 355.4V365.7M245.5 355.4H252.5M245.5 365.7H252.5" stroke="#f6c64f" stroke-width="1.1" fill="none"/><path d="M257.1 336.5V344M253.60000000000002 336.5H260.6M253.60000000000002 344H260.6" stroke="#f6c64f" stroke-width="1.1" fill="none"/><path d="M265.1 276.2V300.8M261.6 276.2H268.6M261.6 300.8H268.6" stroke="#f6c64f" stroke-width="1.1" fill="none"/><path d="M272.6 273.4V298.5M269.1 273.4H276.1M269.1 298.5H276.1" stroke="#f6c64f" stroke-width="1.1" fill="none"/><path d="M288.2 253.6V264.6M284.7 253.6H291.7M284.7 264.6H291.7" stroke="#f6c64f" stroke-width="1.1" fill="none"/><path d="M303.9 237.2V246.2M300.4 237.2H307.4M300.4 246.2H307.4" stroke="#f6c64f" stroke-width="1.1" fill="none"/>
<polyline points="139.51,358.00 140.16,357.95 140.80,357.91 141.45,357.86 142.10,357.81 142.74,357.76 143.39,357.71 144.04,357.65 144.68,357.58 145.33,357.52 145.98,357.45 146.62,357.37 147.27,357.29 147.92,357.21 148.56,357.12 149.21,357.02 149.85,356.92 150.50,356.81 151.15,356.70 151.79,356.58 152.44,356.45 153.09,356.32 153.73,356.17 154.38,356.02 155.03,355.86 155.67,355.69 156.32,355.51 156.97,355.32 157.61,355.12 158.26,354.90 158.91,354.67 159.55,354.43 160.20,354.18 160.85,353.91 161.49,353.63 162.14,353.33 162.78,353.01 163.43,352.67 164.08,352.32 164.72,351.95 165.37,351.55 166.02,351.13 166.66,350.70 167.31,350.23 167.96,349.75 168.60,349.23 169.25,348.69 169.90,348.12 170.54,347.52 171.19,346.90 171.84,346.24 172.48,345.54 173.13,344.82 173.78,344.05 174.42,343.26 175.07,342.42 175.71,341.55 176.36,340.64 177.01,339.68 177.65,338.69 178.30,337.66 178.95,336.58 179.59,335.46 180.24,334.30 180.89,333.09 181.53,331.84 182.18,330.54 182.83,329.21 183.47,327.83 184.12,326.40 184.77,324.94 185.41,323.43 186.06,321.88 186.71,320.29 187.35,318.67 188.00,317.01 188.64,315.32 189.29,313.60 189.94,311.84 190.58,310.06 191.23,308.26 191.88,306.44 192.52,304.59 193.17,302.74 193.82,300.87 194.46,298.99 195.11,297.11 195.76,295.23 196.40,293.35 197.05,291.47 197.70,289.60 198.34,287.75 198.99,285.91 199.64,284.09 200.28,282.29 200.93,280.52 201.57,278.77 202.22,277.05 202.87,275.37 203.51,273.72 204.16,272.10 204.81,270.52 205.45,268.98 206.10,267.48 206.75,266.02 207.39,264.61 208.04,263.24 208.69,261.91 209.33,260.62 209.98,259.38 210.63,258.18 211.27,257.03 211.92,255.92 212.57,254.85 213.21,253.82 213.86,252.84 214.50,251.89 215.15,250.99 215.80,250.12 216.44,249.30 217.09,248.51 217.74,247.75 218.38,247.03 219.03,246.34 219.68,245.69 220.32,245.07 220.97,244.48 221.62,243.91 222.26,243.38 222.91,242.87 223.56,242.39 224.20,241.93 224.85,241.49 225.50,241.08 226.14,240.69 226.79,240.32 227.44,239.97 228.08,239.64 228.73,239.33 229.37,239.03 230.02,238.75 230.67,238.48 231.31,238.23 231.96,237.99 232.61,237.77 233.25,237.56 233.90,237.36 234.55,237.17 235.19,236.99 235.84,236.82 236.49,236.66 237.13,236.51 237.78,236.37 238.43,236.24 239.07,236.11 239.72,235.99 240.36,235.88 241.01,235.77 241.66,235.67 242.30,235.58 242.95,235.49 243.60,235.41 244.24,235.33 244.89,235.25 245.54,235.18 246.18,235.12 246.83,235.06 247.48,235.00 248.12,234.94 248.77,234.89 249.42,234.84 250.06,234.80 250.71,234.75 251.36,234.71 252.00,234.67 252.65,234.64 253.29,234.60 253.94,234.57 254.59,234.54 255.23,234.51 255.88,234.48 256.53,234.46 257.17,234.43 257.82,234.41 258.47,234.39 259.11,234.37 259.76,234.35 260.41,234.33 261.05,234.32 261.70,234.30 262.35,234.29 262.99,234.27 263.64,234.26 264.29,234.25 264.93,234.24 265.58,234.23 266.23,234.22 266.87,234.21 267.52,234.20 268.16,234.19 268.81,234.18" fill="none" stroke="#0d3a77" stroke-width="1.1"/>
<polyline points="139.51,357.32 140.16,357.26 140.80,357.19 141.45,357.12 142.10,357.05 142.74,356.97 143.39,356.88 144.04,356.79 144.68,356.70 145.33,356.60 145.98,356.49 146.62,356.38 147.27,356.26 147.92,356.14 148.56,356.00 149.21,355.86 149.85,355.72 150.50,355.56 151.15,355.40 151.79,355.22 152.44,355.04 153.09,354.84 153.73,354.64 154.38,354.42 155.03,354.19 155.67,353.95 156.32,353.70 156.97,353.43 157.61,353.15 158.26,352.85 158.91,352.54 159.55,352.21 160.20,351.86 160.85,351.49 161.49,351.11 162.14,350.70 162.78,350.27 163.43,349.82 164.08,349.35 164.72,348.86 165.37,348.34 166.02,347.79 166.66,347.22 167.31,346.62 167.96,345.99 168.60,345.34 169.25,344.65 169.90,343.93 170.54,343.18 171.19,342.39 171.84,341.57 172.48,340.72 173.13,339.83 173.78,338.90 174.42,337.94 175.07,336.93 175.71,335.89 176.36,334.82 177.01,333.70 177.65,332.54 178.30,331.35 178.95,330.11 179.59,328.84 180.24,327.52 180.89,326.17 181.53,324.78 182.18,323.36 182.83,321.90 183.47,320.40 184.12,318.87 184.77,317.31 185.41,315.72 186.06,314.10 186.71,312.46 187.35,310.79 188.00,309.10 188.64,307.39 189.29,305.66 189.94,303.92 190.58,302.16 191.23,300.40 191.88,298.63 192.52,296.86 193.17,295.09 193.82,293.32 194.46,291.56 195.11,289.81 195.76,288.06 196.40,286.34 197.05,284.63 197.70,282.93 198.34,281.26 198.99,279.62 199.64,278.00 200.28,276.41 200.93,274.85 201.57,273.32 202.22,271.82 202.87,270.36 203.51,268.94 204.16,267.55 204.81,266.20 205.45,264.89 206.10,263.61 206.75,262.38 207.39,261.18 208.04,260.02 208.69,258.91 209.33,257.83 209.98,256.79 210.63,255.79 211.27,254.82 211.92,253.90 212.57,253.01 213.21,252.15 213.86,251.33 214.50,250.55 215.15,249.79 215.80,249.07 216.44,248.39 217.09,247.73 217.74,247.10 218.38,246.50 219.03,245.93 219.68,245.38 220.32,244.86 220.97,244.37 221.62,243.90 222.26,243.45 222.91,243.02 223.56,242.62 224.20,242.23 224.85,241.86 225.50,241.52 226.14,241.19 226.79,240.87 227.44,240.57 228.08,240.29 228.73,240.02 229.37,239.77 230.02,239.53 230.67,239.30 231.31,239.08 231.96,238.88 232.61,238.68 233.25,238.50 233.90,238.33 234.55,238.16 235.19,238.01 235.84,237.86 236.49,237.72 237.13,237.59 237.78,237.46 238.43,237.34 239.07,237.23 239.72,237.12 240.36,237.02 241.01,236.93 241.66,236.84 242.30,236.76 242.95,236.68 243.60,236.60 244.24,236.53 244.89,236.46 245.54,236.40 246.18,236.34 246.83,236.28 247.48,236.23 248.12,236.18 248.77,236.13 249.42,236.08 250.06,236.04 250.71,236.00 251.36,235.96 252.00,235.92 252.65,235.89 253.29,235.86 253.94,235.83 254.59,235.80 255.23,235.77 255.88,235.75 256.53,235.72 257.17,235.70 257.82,235.68 258.47,235.66 259.11,235.64 259.76,235.62 260.41,235.60 261.05,235.58 261.70,235.57 262.35,235.56 262.99,235.54 263.64,235.53 264.29,235.52 264.93,235.50 265.58,235.49 266.23,235.48 266.87,235.47 267.52,235.46 268.16,235.46 268.81,235.45" fill="none" stroke="#c0252a" stroke-width="1.1"/>
<polyline points="230.80,364.26 231.18,364.12 231.56,363.97 231.95,363.82 232.33,363.67 232.72,363.51 233.10,363.35 233.48,363.18 233.87,363.00 234.25,362.82 234.64,362.63 235.02,362.44 235.41,362.24 235.79,362.03 236.17,361.82 236.56,361.59 236.94,361.37 237.33,361.13 237.71,360.89 238.09,360.64 238.48,360.38 238.86,360.11 239.25,359.84 239.63,359.56 240.01,359.26 240.40,358.96 240.78,358.65 241.17,358.33 241.55,358.00 241.93,357.66 242.32,357.31 242.70,356.95 243.09,356.58 243.47,356.19 243.85,355.80 244.24,355.40 244.62,354.98 245.01,354.55 245.39,354.11 245.77,353.65 246.16,353.19 246.54,352.71 246.93,352.22 247.31,351.71 247.69,351.19 248.08,350.66 248.46,350.11 248.85,349.55 249.23,348.98 249.61,348.39 250.00,347.78 250.38,347.16 250.77,346.53 251.15,345.88 251.53,345.21 251.92,344.53 252.30,343.84 252.69,343.13 253.07,342.40 253.45,341.66 253.84,340.90 254.22,340.13 254.61,339.34 254.99,338.54 255.37,337.71 255.76,336.88 256.14,336.03 256.53,335.16 256.91,334.28 257.29,333.38 257.68,332.47 258.06,331.55 258.45,330.61 258.83,329.65 259.21,328.69 259.60,327.71 259.98,326.71 260.37,325.71 260.75,324.69 261.13,323.66 261.52,322.62 261.90,321.56 262.29,320.50 262.67,319.43 263.05,318.35 263.44,317.26 263.82,316.16 264.21,315.05 264.59,313.94 264.97,312.82 265.36,311.70 265.74,310.57 266.13,309.43 266.51,308.30 266.89,307.16 267.28,306.01 267.66,304.87 268.05,303.73 268.43,302.58 268.81,301.44 269.20,300.30 269.58,299.16 269.97,298.03 270.35,296.89 270.73,295.77 271.12,294.64 271.50,293.53 271.89,292.42 272.27,291.31 272.66,290.22 273.04,289.13 273.42,288.05 273.81,286.98 274.19,285.92 274.58,284.87 274.96,283.84 275.34,282.81 275.73,281.79 276.11,280.79 276.50,279.80 276.88,278.83 277.26,277.86 277.65,276.91 278.03,275.98 278.42,275.06 278.80,274.15 279.18,273.26 279.57,272.38 279.95,271.52 280.34,270.68 280.72,269.85 281.10,269.03 281.49,268.23 281.87,267.45 282.26,266.68 282.64,265.93 283.02,265.19 283.41,264.47 283.79,263.76 284.18,263.07 284.56,262.40 284.94,261.74 285.33,261.09 285.71,260.47 286.10,259.85 286.48,259.25 286.86,258.67 287.25,258.10 287.63,257.54 288.02,257.00 288.40,256.47 288.78,255.95 289.17,255.45 289.55,254.97 289.94,254.49 290.32,254.03 290.70,253.58 291.09,253.14 291.47,252.72 291.86,252.30 292.24,251.90 292.62,251.51 293.01,251.13 293.39,250.77 293.78,250.41 294.16,250.06 294.54,249.72 294.93,249.40 295.31,249.08 295.70,248.77 296.08,248.47 296.46,248.18 296.85,247.90 297.23,247.63 297.62,247.37 298.00,247.11 298.38,246.86 298.77,246.62 299.15,246.39 299.54,246.17 299.92,245.95 300.30,245.74 300.69,245.53 301.07,245.33 301.46,245.14 301.84,244.96 302.22,244.78 302.61,244.60 302.99,244.43 303.38,244.27 303.76,244.11 304.14,243.96 304.53,243.81 304.91,243.67 305.30,243.53 305.68,243.40 306.06,243.27 306.45,243.14 306.83,243.02 307.22,242.91 307.60,242.79" fill="none" stroke="#f6c64f" stroke-width="1.1"/>
<rect x="136.6" y="346.7" width="7.0" height="7.0" fill="#c0252a"/><rect x="170.4" y="344.2" width="7.0" height="7.0" fill="#c0252a"/><rect x="177.9" y="307.1" width="7.0" height="7.0" fill="#c0252a"/><rect x="185.9" y="293.6" width="7.0" height="7.0" fill="#c0252a"/><rect x="193.8" y="273.4" width="7.0" height="7.0" fill="#c0252a"/><rect x="201.3" y="259.1" width="7.0" height="7.0" fill="#c0252a"/><rect x="209.2" y="252.1" width="7.0" height="7.0" fill="#c0252a"/><rect x="217.1" y="241.1" width="7.0" height="7.0" fill="#c0252a"/><rect x="224.5" y="236.4" width="7.0" height="7.0" fill="#c0252a"/><rect x="232.8" y="234.8" width="7.0" height="7.0" fill="#c0252a"/><rect x="240.5" y="233.4" width="7.0" height="7.0" fill="#c0252a"/><rect x="248.5" y="232.5" width="7.0" height="7.0" fill="#c0252a"/><rect x="256.2" y="232.5" width="7.0" height="7.0" fill="#c0252a"/><rect x="263.9" y="232.5" width="7.0" height="7.0" fill="#c0252a"/><circle cx="140.1" cy="357.8" r="3.55" fill="#0d3a77"/><circle cx="173.9" cy="336.7" r="3.55" fill="#0d3a77"/><circle cx="181.8" cy="329.3" r="3.55" fill="#0d3a77"/><circle cx="189.5" cy="310.2" r="3.55" fill="#0d3a77"/><circle cx="197.2" cy="286.0" r="3.55" fill="#0d3a77"/><circle cx="205.0" cy="273.9" r="3.55" fill="#0d3a77"/><circle cx="212.8" cy="259.3" r="3.55" fill="#0d3a77"/><circle cx="220.6" cy="251.0" r="3.55" fill="#0d3a77"/><circle cx="228.5" cy="244.6" r="3.55" fill="#0d3a77"/><circle cx="236.3" cy="240.4" r="3.55" fill="#0d3a77"/><circle cx="244.0" cy="237.6" r="3.55" fill="#0d3a77"/><circle cx="252.0" cy="235.2" r="3.55" fill="#0d3a77"/><circle cx="259.7" cy="233.3" r="3.55" fill="#0d3a77"/><circle cx="267.4" cy="233.2" r="3.55" fill="#0d3a77"/><path d="M214.3 370.5L217.9 363.5L221.5 370.5Z" fill="#f6c64f"/><path d="M221.7 367.3L225.3 360.3L228.9 367.3Z" fill="#f6c64f"/><path d="M230.0 370.5L233.6 363.5L237.2 370.5Z" fill="#f6c64f"/><path d="M238.1 360.8L241.7 353.8L245.3 360.8Z" fill="#f6c64f"/><path d="M245.4 364.1L249.0 357.1L252.6 364.1Z" fill="#f6c64f"/><path d="M253.5 344.1L257.1 337.1L260.7 344.1Z" fill="#f6c64f"/><path d="M261.5 292.1L265.1 285.1L268.7 292.1Z" fill="#f6c64f"/><path d="M269.0 290.2L272.6 283.2L276.2 290.2Z" fill="#f6c64f"/><path d="M276.7 289.8L280.3 282.8L283.9 289.8Z" fill="#f6c64f"/><path d="M284.6 262.8L288.2 255.8L291.8 262.8Z" fill="#f6c64f"/><path d="M292.1 247.3L295.7 240.3L299.3 247.3Z" fill="#f6c64f"/><path d="M300.3 246.1L303.9 239.1L307.5 246.1Z" fill="#f6c64f"/>
<path d="M317.7 229.9H332.5" stroke="#0d3a77" stroke-width="1.3"/><circle cx="325.1" cy="229.9" r="3.0" fill="#0d3a77"/><path d="M317.7 247.8H332.5" stroke="#d98a8c" stroke-width="1.3"/><rect x="322.1" y="244.8" width="6" height="6" fill="#c0252a"/><path d="M317.7 268.1H332.5" stroke="#f8d98c" stroke-width="1.3"/><path d="M321.3 270.0L325.1 263.6L328.9 270.0Z" fill="#f6c64f"/>
<g font-family='"Liberation Sans", sans-serif' fill="#000">
<text x="7.8" y="253.9" font-size="15.5" font-weight="bold" text-anchor="start" >B.</text>
<text transform="translate(96.6,361.1) scale(1.05,1)" font-size="9.7" font-weight="bold" text-anchor="end">0</text>
<text transform="translate(96.6,335.9) scale(1.05,1)" font-size="9.7" font-weight="bold" text-anchor="end">20</text>
<text transform="translate(96.6,310.7) scale(1.05,1)" font-size="9.7" font-weight="bold" text-anchor="end">40</text>
<text transform="translate(96.6,285.5) scale(1.05,1)" font-size="9.7" font-weight="bold" text-anchor="end">60</text>
<text transform="translate(96.6,260.3) scale(1.05,1)" font-size="9.7" font-weight="bold" text-anchor="end">80</text>
<text transform="translate(96.6,235.1) scale(1.05,1)" font-size="9.7" font-weight="bold" text-anchor="end">100</text>
<text transform="translate(106.8,384.2) rotate(-45)" font-size="10.4" font-weight="bold" text-anchor="end">0.000001</text>
<text transform="translate(132.7,384.2) rotate(-45)" font-size="10.4" font-weight="bold" text-anchor="end">0.00001</text>
<text transform="translate(158.5,384.2) rotate(-45)" font-size="10.4" font-weight="bold" text-anchor="end">0.0001</text>
<text transform="translate(184.4,384.2) rotate(-45)" font-size="10.4" font-weight="bold" text-anchor="end">0.001</text>
<text transform="translate(210.2,384.2) rotate(-45)" font-size="10.4" font-weight="bold" text-anchor="end">0.01</text>
<text transform="translate(236.1,384.2) rotate(-45)" font-size="10.4" font-weight="bold" text-anchor="end">0.1</text>
<text transform="translate(262.0,384.2) rotate(-45)" font-size="10.4" font-weight="bold" text-anchor="end">1</text>
<text transform="translate(287.8,384.2) rotate(-45)" font-size="10.4" font-weight="bold" text-anchor="end">10</text>
<text transform="translate(313.7,384.2) rotate(-45)" font-size="10.4" font-weight="bold" text-anchor="end">100</text>
<text x="208.5" y="421.0" font-size="12" font-weight="bold" text-anchor="middle" >Inhibitor, µM</text>
<text transform="translate(74.5,297) rotate(-90) scale(0.89,1)" font-size="12.3" font-weight="bold" text-anchor="middle">% inhibition</text>
</g>
<g font-family='"Liberation Sans", sans-serif' fill="#000" font-size="11.2" stroke="#000" stroke-width="0.2">
<text transform="translate(341.5,232.4) scale(0.95,1)" font-size="11.8">PDD, 5*K<tspan font-size="8.6" dy="1.9">m</tspan></text>
<text transform="translate(341.5,250.4) scale(0.95,1)" font-size="11.8">PDD, K<tspan font-size="8.6" dy="1.9">m</tspan></text>
<text transform="translate(341.5,270.7) scale(0.95,1)" font-size="11.8">BI 78D3, 5*K<tspan font-size="8.6" dy="1.9">m</tspan></text>
</g></svg></body></html>
